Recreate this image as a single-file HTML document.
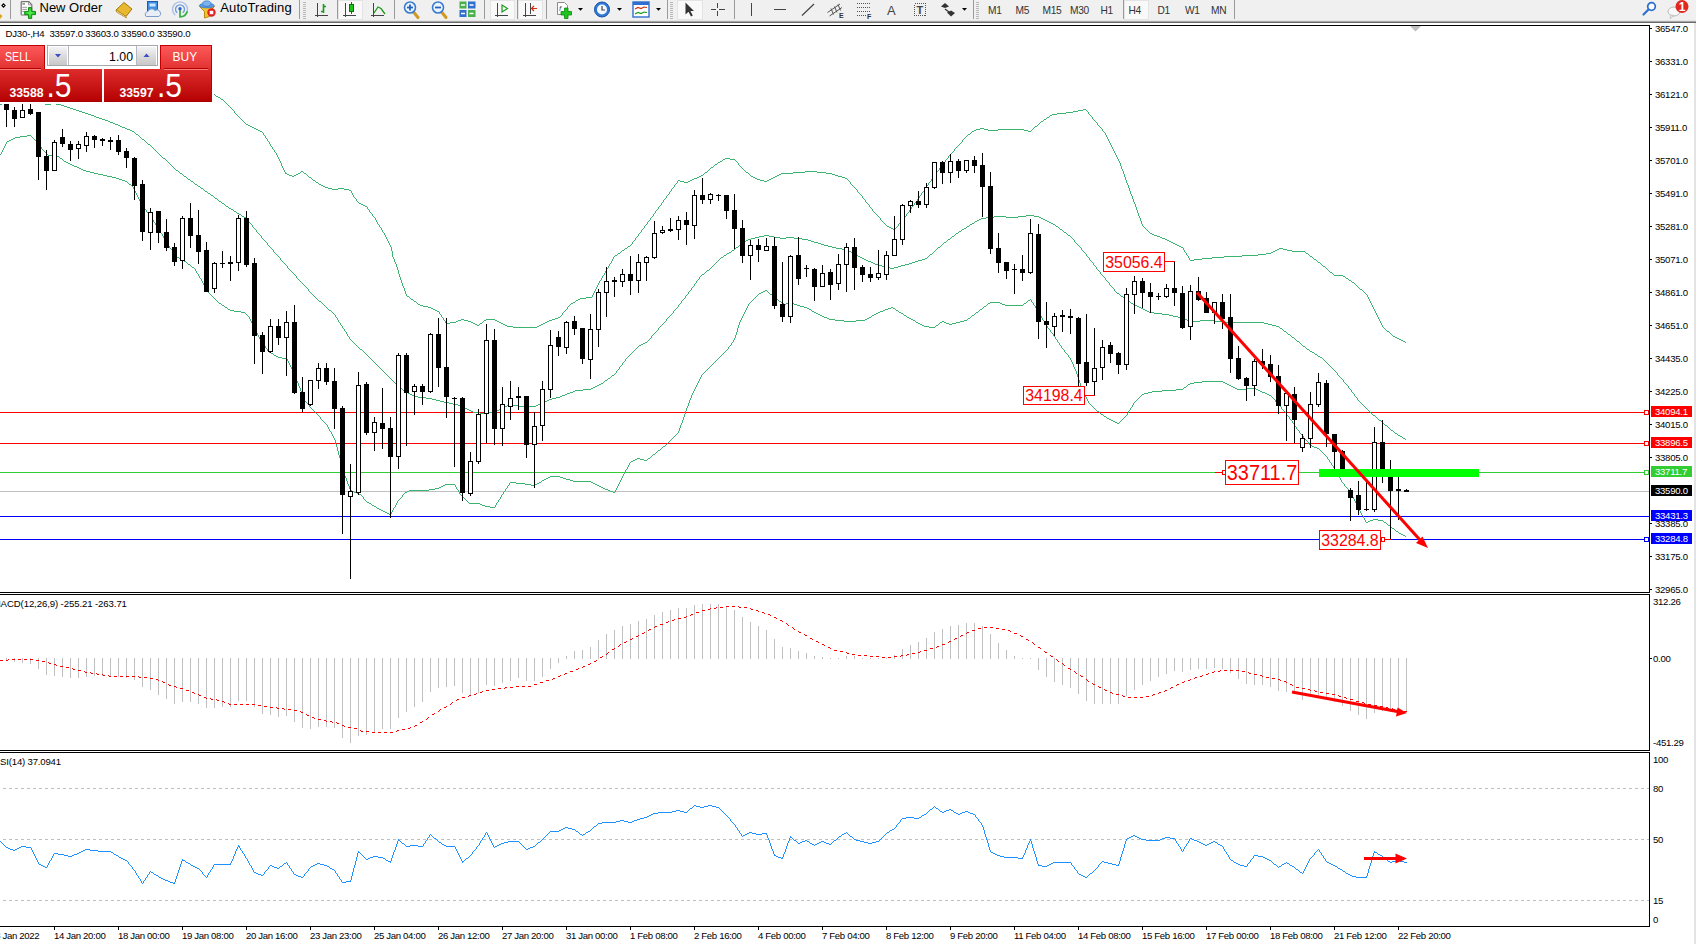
<!DOCTYPE html>
<html lang="en"><head><meta charset="utf-8"><title>DJ30-,H4</title>
<style>html,body{margin:0;padding:0;background:#fff;}body{width:1696px;height:944px;overflow:hidden;position:relative;font-family:"Liberation Sans", sans-serif;}svg{position:absolute;left:0;top:0;display:block}text{font-family:"Liberation Sans", sans-serif;}.ax{font-size:9.6px;letter-spacing:-0.28px;fill:#000}.axw{font-size:9.6px;letter-spacing:-0.28px;fill:#fff}.tb{font-size:13px;fill:#000}.tf{font-size:10.2px;letter-spacing:-0.35px;fill:#333}.lbl{fill:#f00}</style></head><body>
<svg width="1696" height="944" viewBox="0 0 1696 944">
<rect x="0" y="0" width="1696" height="944" fill="#fff"/>
<g shape-rendering="crispEdges">
<rect x="0" y="0" width="1696" height="21" fill="#f0f0f0"/>
<rect x="0" y="20" width="1696" height="1" fill="#e6e6e6"/>
<rect x="0" y="21" width="1696" height="1" fill="#a6a6a6"/>
<rect x="0" y="22" width="1696" height="1" fill="#6a6a6a"/>
<rect x="0" y="25" width="1649" height="1" fill="#000"/>
<rect x="1694" y="23" width="2" height="921" fill="#e3e3e3"/>
<rect x="1649" y="25" width="1" height="902" fill="#000"/>
<rect x="0" y="592" width="1650" height="1" fill="#000"/>
<rect x="0" y="594" width="1650" height="1" fill="#000"/>
<rect x="0" y="750" width="1650" height="1" fill="#000"/>
<rect x="0" y="752" width="1650" height="1" fill="#000"/>
<rect x="0" y="593" width="1650" height="1" fill="#fff"/>
<rect x="0" y="751" width="1650" height="1" fill="#fff"/>
<rect x="0" y="926" width="1650" height="1" fill="#000"/>
<rect x="54" y="927" width="1" height="3" fill="#000"/>
<rect x="118" y="927" width="1" height="3" fill="#000"/>
<rect x="182" y="927" width="1" height="3" fill="#000"/>
<rect x="246" y="927" width="1" height="3" fill="#000"/>
<rect x="310" y="927" width="1" height="3" fill="#000"/>
<rect x="374" y="927" width="1" height="3" fill="#000"/>
<rect x="438" y="927" width="1" height="3" fill="#000"/>
<rect x="502" y="927" width="1" height="3" fill="#000"/>
<rect x="566" y="927" width="1" height="3" fill="#000"/>
<rect x="630" y="927" width="1" height="3" fill="#000"/>
<rect x="694" y="927" width="1" height="3" fill="#000"/>
<rect x="758" y="927" width="1" height="3" fill="#000"/>
<rect x="822" y="927" width="1" height="3" fill="#000"/>
<rect x="886" y="927" width="1" height="3" fill="#000"/>
<rect x="950" y="927" width="1" height="3" fill="#000"/>
<rect x="1014" y="927" width="1" height="3" fill="#000"/>
<rect x="1078" y="927" width="1" height="3" fill="#000"/>
<rect x="1142" y="927" width="1" height="3" fill="#000"/>
<rect x="1206" y="927" width="1" height="3" fill="#000"/>
<rect x="1270" y="927" width="1" height="3" fill="#000"/>
<rect x="1334" y="927" width="1" height="3" fill="#000"/>
<rect x="1398" y="927" width="1" height="3" fill="#000"/>
</g>
<g shape-rendering="crispEdges">
<rect x="0" y="412" width="1649" height="1" fill="#ff0000"/>
<rect x="0" y="443" width="1649" height="1" fill="#ff0000"/>
<rect x="0" y="472" width="1649" height="1" fill="#32cd32"/>
<rect x="0" y="491" width="1649" height="1" fill="#c0c0c0"/>
<rect x="0" y="516" width="1649" height="1" fill="#0000ff"/>
<rect x="0" y="539" width="1649" height="1" fill="#0000ff"/>
</g>
<g shape-rendering="crispEdges">
<path fill="#3cb371" d="M200 85h1v1h-1zM201 86h2v1h-2zM203 87h1v1h-1zM204 88h2v1h-2zM206 89h1v1h-1zM207 90h2v1h-2zM209 91h1v1h-1zM210 92h2v1h-2zM212 93h1v1h-1zM213 94h2v1h-2zM215 95h1v1h-1zM216 96h2v1h-2zM218 97h2v1h-2zM220 98h1v1h-1zM221 99h2v1h-2zM223 100h1v1h-1zM224 101h1v1h-1zM225 102h1v1h-1zM226 103h1v1h-1zM227 104h1v1h-1zM228 105h1v1h-1zM229 106h1v1h-1zM230 107h1v1h-1zM231 108h1v1h-1zM232 109h1v1h-1zM1083 109h3v1h-3zM233 110h1v1h-1zM1078 110h5v1h-5zM1086 110h1v1h-1zM234 111h1v2h-1zM1073 111h5v1h-5zM1087 111h1v1h-1zM1066 112h7v1h-7zM1088 112h1v2h-1zM235 113h1v1h-1zM1057 113h9v1h-9zM236 114h1v1h-1zM1052 114h5v1h-5zM1089 114h1v1h-1zM237 115h1v1h-1zM1050 115h2v1h-2zM1090 115h1v1h-1zM238 116h1v1h-1zM1049 116h1v1h-1zM1091 116h1v1h-1zM239 117h1v1h-1zM1047 117h2v1h-2zM1092 117h1v2h-1zM240 118h1v1h-1zM1046 118h1v1h-1zM241 119h1v1h-1zM1044 119h2v1h-2zM1093 119h1v1h-1zM242 120h1v1h-1zM1043 120h1v1h-1zM1094 120h1v1h-1zM243 121h1v1h-1zM1041 121h2v1h-2zM1095 121h1v1h-1zM244 122h1v1h-1zM1040 122h1v1h-1zM1096 122h1v1h-1zM245 123h1v1h-1zM1039 123h1v1h-1zM1097 123h1v2h-1zM246 124h2v1h-2zM1038 124h1v1h-1zM248 125h2v1h-2zM1037 125h1v1h-1zM1098 125h1v1h-1zM250 126h2v1h-2zM1035 126h2v1h-2zM1099 126h1v1h-1zM252 127h2v1h-2zM1034 127h1v1h-1zM1100 127h1v1h-1zM254 128h2v1h-2zM980 128h4v1h-4zM1033 128h1v1h-1zM1101 128h1v1h-1zM256 129h2v1h-2zM976 129h4v1h-4zM984 129h4v1h-4zM998 129h26v1h-26zM1032 129h1v1h-1zM1102 129h1v2h-1zM258 130h2v1h-2zM974 130h2v1h-2zM988 130h10v1h-10zM1024 130h4v1h-4zM1031 130h1v1h-1zM260 131h2v1h-2zM972 131h2v1h-2zM1028 131h3v1h-3zM1103 131h1v1h-1zM262 132h1v1h-1zM971 132h1v1h-1zM1104 132h1v1h-1zM263 133h1v2h-1zM970 133h1v1h-1zM1105 133h1v2h-1zM968 134h2v1h-2zM264 135h1v1h-1zM967 135h1v1h-1zM1106 135h1v2h-1zM265 136h1v2h-1zM966 136h1v1h-1zM965 137h1v1h-1zM1107 137h1v2h-1zM266 138h1v1h-1zM964 138h1v1h-1zM267 139h1v2h-1zM963 139h1v1h-1zM1108 139h1v2h-1zM962 140h1v2h-1zM268 141h1v1h-1zM1109 141h1v2h-1zM269 142h1v2h-1zM961 142h1v1h-1zM960 143h1v1h-1zM1110 143h1v2h-1zM270 144h1v2h-1zM959 144h1v1h-1zM958 145h1v1h-1zM1111 145h1v2h-1zM271 146h1v1h-1zM957 146h1v1h-1zM272 147h1v2h-1zM956 147h1v1h-1zM1112 147h1v2h-1zM955 148h1v1h-1zM273 149h1v1h-1zM954 149h1v2h-1zM1113 149h1v2h-1zM274 150h1v2h-1zM953 151h1v1h-1zM1114 151h1v2h-1zM275 152h1v1h-1zM952 152h1v1h-1zM276 153h1v2h-1zM951 153h1v1h-1zM1115 153h1v2h-1zM950 154h1v1h-1zM277 155h1v2h-1zM949 155h1v1h-1zM1116 155h1v2h-1zM948 156h1v2h-1zM278 157h1v2h-1zM1117 157h1v2h-1zM725 158h5v1h-5zM947 158h1v1h-1zM279 159h1v2h-1zM723 159h2v1h-2zM730 159h5v1h-5zM946 159h1v1h-1zM1118 159h1v2h-1zM722 160h1v1h-1zM735 160h1v1h-1zM945 160h1v2h-1zM280 161h1v2h-1zM720 161h2v1h-2zM736 161h1v1h-1zM1119 161h1v2h-1zM718 162h2v1h-2zM737 162h1v1h-1zM944 162h1v1h-1zM281 163h1v3h-1zM717 163h1v1h-1zM738 163h1v2h-1zM943 163h1v1h-1zM1120 163h1v3h-1zM715 164h2v1h-2zM942 164h1v2h-1zM714 165h1v1h-1zM739 165h1v1h-1zM282 166h1v2h-1zM713 166h1v1h-1zM740 166h1v1h-1zM941 166h1v1h-1zM1121 166h1v3h-1zM711 167h2v1h-2zM741 167h1v1h-1zM940 167h1v1h-1zM283 168h1v2h-1zM710 168h1v1h-1zM742 168h1v1h-1zM939 168h1v2h-1zM709 169h1v1h-1zM743 169h1v1h-1zM1122 169h1v2h-1zM284 170h1v2h-1zM708 170h1v1h-1zM744 170h1v1h-1zM938 170h1v1h-1zM301 171h2v1h-2zM707 171h1v1h-1zM745 171h1v1h-1zM805 171h12v1h-12zM937 171h1v1h-1zM1123 171h1v3h-1zM285 172h1v1h-1zM300 172h1v1h-1zM303 172h1v1h-1zM705 172h2v1h-2zM746 172h2v1h-2zM793 172h12v1h-12zM817 172h9v1h-9zM936 172h1v2h-1zM285 173h2v1h-2zM298 173h2v1h-2zM304 173h2v1h-2zM704 173h1v1h-1zM748 173h1v1h-1zM781 173h12v1h-12zM826 173h6v1h-6zM287 174h2v1h-2zM296 174h2v1h-2zM306 174h1v1h-1zM703 174h1v1h-1zM749 174h1v1h-1zM779 174h2v1h-2zM832 174h3v1h-3zM935 174h1v1h-1zM1124 174h1v3h-1zM289 175h3v1h-3zM294 175h2v1h-2zM307 175h1v1h-1zM701 175h2v1h-2zM750 175h1v1h-1zM777 175h2v1h-2zM835 175h3v1h-3zM934 175h1v1h-1zM292 176h2v1h-2zM308 176h1v1h-1zM699 176h2v1h-2zM751 176h2v1h-2zM775 176h2v1h-2zM838 176h4v1h-4zM933 176h1v2h-1zM309 177h2v1h-2zM697 177h2v1h-2zM753 177h2v1h-2zM773 177h2v1h-2zM842 177h3v1h-3zM1125 177h1v3h-1zM311 178h1v1h-1zM694 178h3v1h-3zM755 178h2v1h-2zM771 178h2v1h-2zM845 178h2v1h-2zM932 178h1v1h-1zM312 179h1v1h-1zM692 179h2v1h-2zM757 179h3v1h-3zM769 179h2v1h-2zM847 179h1v1h-1zM931 179h1v2h-1zM313 180h2v1h-2zM678 180h2v1h-2zM690 180h2v1h-2zM760 180h4v1h-4zM767 180h2v1h-2zM848 180h1v1h-1zM1126 180h1v3h-1zM315 181h1v1h-1zM677 181h1v2h-1zM680 181h4v1h-4zM688 181h2v1h-2zM764 181h3v1h-3zM849 181h1v1h-1zM930 181h1v1h-1zM316 182h2v1h-2zM684 182h4v1h-4zM850 182h1v2h-1zM929 182h1v1h-1zM318 183h1v1h-1zM676 183h1v1h-1zM928 183h1v2h-1zM1127 183h1v2h-1zM319 184h2v1h-2zM675 184h1v1h-1zM851 184h1v1h-1zM321 185h2v1h-2zM674 185h1v2h-1zM852 185h1v1h-1zM927 185h1v1h-1zM1128 185h1v3h-1zM323 186h2v1h-2zM853 186h1v1h-1zM926 186h1v2h-1zM325 187h3v1h-3zM673 187h1v1h-1zM854 187h1v1h-1zM328 188h4v1h-4zM338 188h6v1h-6zM672 188h1v1h-1zM855 188h1v1h-1zM925 188h1v1h-1zM1129 188h1v3h-1zM332 189h6v1h-6zM344 189h5v1h-5zM671 189h1v2h-1zM856 189h1v1h-1zM924 189h1v2h-1zM349 190h2v1h-2zM857 190h1v2h-1zM351 191h1v2h-1zM670 191h1v1h-1zM923 191h1v1h-1zM1130 191h1v3h-1zM669 192h1v2h-1zM858 192h1v1h-1zM922 192h1v1h-1zM352 193h1v2h-1zM859 193h1v1h-1zM921 193h1v2h-1zM668 194h1v1h-1zM860 194h1v1h-1zM1131 194h1v2h-1zM353 195h1v2h-1zM667 195h1v1h-1zM861 195h1v1h-1zM920 195h1v1h-1zM666 196h1v2h-1zM862 196h1v2h-1zM919 196h1v2h-1zM1132 196h1v3h-1zM354 197h1v1h-1zM355 198h1v1h-1zM665 198h1v1h-1zM863 198h1v1h-1zM918 198h1v1h-1zM356 199h1v2h-1zM664 199h1v1h-1zM864 199h1v1h-1zM917 199h1v2h-1zM1133 199h1v3h-1zM663 200h1v2h-1zM865 200h1v2h-1zM357 201h1v1h-1zM916 201h1v1h-1zM358 202h1v1h-1zM662 202h1v1h-1zM866 202h1v1h-1zM915 202h1v1h-1zM1134 202h1v2h-1zM359 203h2v1h-2zM661 203h1v2h-1zM867 203h1v1h-1zM914 203h1v2h-1zM361 204h2v1h-2zM868 204h1v1h-1zM1135 204h1v3h-1zM363 205h2v1h-2zM660 205h1v1h-1zM869 205h1v2h-1zM913 205h1v1h-1zM365 206h2v1h-2zM659 206h1v1h-1zM912 206h1v1h-1zM367 207h1v2h-1zM658 207h1v2h-1zM870 207h1v1h-1zM911 207h1v2h-1zM1136 207h1v3h-1zM871 208h1v1h-1zM368 209h1v1h-1zM657 209h1v1h-1zM872 209h1v2h-1zM910 209h1v1h-1zM369 210h1v2h-1zM656 210h1v1h-1zM909 210h1v2h-1zM1137 210h1v3h-1zM655 211h1v2h-1zM873 211h1v1h-1zM370 212h1v1h-1zM874 212h1v1h-1zM908 212h1v1h-1zM371 213h1v1h-1zM654 213h1v1h-1zM875 213h1v1h-1zM907 213h1v1h-1zM1138 213h1v3h-1zM372 214h1v2h-1zM653 214h1v2h-1zM876 214h1v1h-1zM906 214h1v2h-1zM877 215h1v1h-1zM373 216h1v1h-1zM652 216h1v1h-1zM878 216h1v1h-1zM905 216h1v1h-1zM1139 216h1v2h-1zM374 217h1v1h-1zM651 217h1v1h-1zM879 217h1v1h-1zM904 217h1v1h-1zM375 218h1v2h-1zM650 218h1v2h-1zM880 218h1v2h-1zM903 218h1v2h-1zM1140 218h1v3h-1zM376 220h1v2h-1zM649 220h1v1h-1zM881 220h1v1h-1zM902 220h1v1h-1zM648 221h1v1h-1zM882 221h1v1h-1zM901 221h1v1h-1zM1141 221h1v3h-1zM377 222h1v2h-1zM647 222h1v2h-1zM883 222h1v1h-1zM900 222h1v1h-1zM884 223h1v1h-1zM899 223h1v1h-1zM378 224h1v1h-1zM646 224h1v1h-1zM885 224h1v1h-1zM898 224h1v2h-1zM1142 224h1v2h-1zM379 225h1v2h-1zM645 225h1v1h-1zM886 225h1v1h-1zM644 226h1v2h-1zM887 226h2v1h-2zM897 226h1v1h-1zM1143 226h1v1h-1zM380 227h1v1h-1zM889 227h2v1h-2zM896 227h1v1h-1zM1144 227h1v1h-1zM381 228h1v2h-1zM643 228h1v1h-1zM891 228h2v1h-2zM895 228h1v1h-1zM1145 228h1v1h-1zM642 229h1v1h-1zM893 229h2v1h-2zM1146 229h1v1h-1zM382 230h1v2h-1zM641 230h1v2h-1zM1147 230h1v1h-1zM1148 231h1v1h-1zM383 232h1v1h-1zM640 232h1v1h-1zM1149 232h1v1h-1zM384 233h1v2h-1zM639 233h1v1h-1zM1150 233h2v1h-2zM638 234h1v2h-1zM1152 234h2v1h-2zM385 235h1v2h-1zM1154 235h3v1h-3zM637 236h1v1h-1zM1157 236h3v1h-3zM386 237h1v2h-1zM636 237h1v1h-1zM1160 237h2v1h-2zM635 238h1v2h-1zM1162 238h3v1h-3zM387 239h1v2h-1zM1165 239h2v1h-2zM634 240h1v1h-1zM1167 240h2v1h-2zM388 241h1v2h-1zM633 241h1v1h-1zM1169 241h2v1h-2zM632 242h1v2h-1zM1171 242h2v1h-2zM389 243h1v2h-1zM1173 243h2v1h-2zM631 244h1v1h-1zM1175 244h2v1h-2zM390 245h1v2h-1zM630 245h1v1h-1zM1177 245h2v1h-2zM628 246h2v1h-2zM1179 246h2v1h-2zM391 247h1v4h-1zM627 247h1v1h-1zM1181 247h2v1h-2zM625 248h2v1h-2zM1183 248h1v2h-1zM1279 248h4v1h-4zM624 249h1v1h-1zM1277 249h2v1h-2zM1283 249h4v1h-4zM622 250h2v1h-2zM1184 250h1v2h-1zM1275 250h2v1h-2zM1287 250h5v1h-5zM392 251h1v6h-1zM621 251h1v1h-1zM1273 251h2v1h-2zM1292 251h13v1h-13zM620 252h1v1h-1zM1185 252h1v1h-1zM1271 252h2v1h-2zM1305 252h1v1h-1zM618 253h2v1h-2zM1186 253h1v2h-1zM1266 253h5v1h-5zM1306 253h2v1h-2zM617 254h1v1h-1zM1258 254h8v1h-8zM1308 254h1v1h-1zM615 255h2v1h-2zM1187 255h1v1h-1zM1242 255h16v1h-16zM1309 255h1v1h-1zM614 256h1v1h-1zM1188 256h1v2h-1zM1224 256h18v1h-18zM1310 256h2v1h-2zM393 257h1v2h-1zM613 257h1v2h-1zM1212 257h12v1h-12zM1312 257h1v1h-1zM1189 258h1v2h-1zM1202 258h10v1h-10zM1313 258h1v1h-1zM394 259h1v3h-1zM612 259h1v2h-1zM1194 259h8v1h-8zM1314 259h2v1h-2zM1190 260h4v1h-4zM1316 260h1v1h-1zM611 261h1v2h-1zM1317 261h1v1h-1zM395 262h1v2h-1zM1318 262h2v1h-2zM610 263h1v1h-1zM1320 263h1v1h-1zM396 264h1v3h-1zM609 264h1v2h-1zM1321 264h1v1h-1zM1322 265h1v1h-1zM608 266h1v2h-1zM1323 266h2v1h-2zM397 267h1v3h-1zM1325 267h1v1h-1zM607 268h1v1h-1zM1326 268h1v1h-1zM606 269h1v2h-1zM1327 269h1v1h-1zM398 270h1v4h-1zM1328 270h1v1h-1zM605 271h1v2h-1zM1329 271h1v1h-1zM1330 272h2v1h-2zM604 273h1v2h-1zM1332 273h1v1h-1zM399 274h1v3h-1zM1333 274h1v1h-1zM603 275h1v1h-1zM1334 275h9v1h-9zM602 276h1v2h-1zM1343 276h2v1h-2zM400 277h1v3h-1zM1345 277h1v1h-1zM601 278h1v2h-1zM1346 278h2v1h-2zM1348 279h1v1h-1zM401 280h1v3h-1zM600 280h1v1h-1zM1349 280h2v1h-2zM599 281h1v2h-1zM1351 281h1v1h-1zM1352 282h2v1h-2zM402 283h1v3h-1zM598 283h1v2h-1zM1354 283h1v1h-1zM1355 284h1v1h-1zM597 285h1v2h-1zM1356 285h1v1h-1zM403 286h1v2h-1zM1357 286h1v1h-1zM596 287h1v2h-1zM1358 287h1v1h-1zM404 288h1v3h-1zM1359 288h1v1h-1zM595 289h1v2h-1zM1360 289h2v1h-2zM1362 290h1v1h-1zM405 291h1v3h-1zM594 291h1v2h-1zM1363 291h1v1h-1zM1364 292h1v1h-1zM593 293h1v2h-1zM1365 293h1v1h-1zM406 294h1v2h-1zM1366 294h1v1h-1zM592 295h1v2h-1zM1367 295h1v2h-1zM407 296h2v1h-2zM409 297h1v1h-1zM586 297h6v1h-6zM1368 297h1v2h-1zM410 298h1v1h-1zM580 298h6v1h-6zM411 299h2v1h-2zM578 299h2v1h-2zM1369 299h1v2h-1zM413 300h1v1h-1zM576 300h2v1h-2zM414 301h2v1h-2zM575 301h1v1h-1zM1370 301h1v2h-1zM416 302h1v1h-1zM573 302h2v1h-2zM417 303h1v1h-1zM571 303h2v1h-2zM1371 303h1v2h-1zM418 304h2v1h-2zM570 304h1v1h-1zM420 305h3v1h-3zM569 305h1v1h-1zM1372 305h1v2h-1zM423 306h5v1h-5zM568 306h1v1h-1zM428 307h3v1h-3zM567 307h1v2h-1zM1373 307h1v2h-1zM431 308h2v1h-2zM433 309h2v1h-2zM566 309h1v1h-1zM1374 309h1v2h-1zM435 310h2v1h-2zM565 310h1v1h-1zM437 311h2v1h-2zM564 311h1v1h-1zM1375 311h1v2h-1zM439 312h1v2h-1zM563 312h1v1h-1zM562 313h1v2h-1zM1376 313h1v2h-1zM440 314h1v1h-1zM441 315h1v2h-1zM561 315h1v1h-1zM1377 315h1v2h-1zM560 316h1v1h-1zM442 317h1v1h-1zM558 317h2v1h-2zM1378 317h1v2h-1zM443 318h1v2h-1zM555 318h3v1h-3zM461 319h3v1h-3zM486 319h9v1h-9zM552 319h3v1h-3zM1379 319h1v2h-1zM444 320h1v1h-1zM458 320h3v1h-3zM464 320h4v1h-4zM484 320h2v1h-2zM495 320h2v1h-2zM549 320h3v1h-3zM445 321h1v2h-1zM456 321h2v1h-2zM468 321h3v1h-3zM483 321h1v1h-1zM497 321h2v1h-2zM547 321h2v1h-2zM1380 321h1v2h-1zM450 322h6v1h-6zM471 322h2v1h-2zM482 322h1v1h-1zM499 322h2v1h-2zM545 322h2v1h-2zM446 323h4v1h-4zM473 323h2v1h-2zM480 323h2v1h-2zM501 323h2v1h-2zM543 323h2v1h-2zM1381 323h1v2h-1zM475 324h2v1h-2zM479 324h1v1h-1zM503 324h2v1h-2zM541 324h2v1h-2zM477 325h2v1h-2zM505 325h2v1h-2zM539 325h2v1h-2zM1382 325h1v2h-1zM507 326h6v1h-6zM537 326h2v1h-2zM513 327h24v1h-24zM1383 327h1v1h-1zM1384 328h1v1h-1zM1385 329h1v1h-1zM1386 330h1v1h-1zM1387 331h2v1h-2zM1389 332h1v1h-1zM1390 333h1v1h-1zM1391 334h1v1h-1zM1392 335h1v1h-1zM1393 336h2v1h-2zM1395 337h2v1h-2zM1397 338h2v1h-2zM1399 339h2v1h-2zM1401 340h2v1h-2zM1403 341h2v1h-2zM1405 342h1v1h-1z"/>
<path fill="#3cb371" d="M2 103h43v1h-43zM51 103h5v1h-5zM0 104h2v1h-2zM45 104h6v1h-6zM56 104h5v1h-5zM61 105h3v1h-3zM64 106h3v1h-3zM67 107h3v1h-3zM70 108h3v1h-3zM73 109h3v1h-3zM76 110h3v1h-3zM79 111h3v1h-3zM82 112h3v1h-3zM85 113h3v1h-3zM88 114h3v1h-3zM91 115h3v1h-3zM94 116h2v1h-2zM96 117h3v1h-3zM99 118h3v1h-3zM102 119h3v1h-3zM105 120h3v1h-3zM108 121h2v1h-2zM110 122h3v1h-3zM113 123h2v1h-2zM115 124h3v1h-3zM118 125h2v1h-2zM120 126h2v1h-2zM122 127h3v1h-3zM125 128h2v1h-2zM127 129h3v1h-3zM130 130h2v1h-2zM132 131h2v1h-2zM134 132h1v1h-1zM135 133h1v1h-1zM136 134h2v1h-2zM138 135h1v1h-1zM139 136h1v1h-1zM140 137h1v1h-1zM141 138h1v1h-1zM142 139h2v1h-2zM144 140h1v1h-1zM145 141h1v1h-1zM146 142h1v1h-1zM147 143h1v1h-1zM148 144h2v1h-2zM150 145h1v1h-1zM151 146h1v1h-1zM152 147h1v1h-1zM153 148h1v1h-1zM154 149h1v1h-1zM155 150h1v1h-1zM156 151h1v1h-1zM157 152h1v1h-1zM158 153h1v1h-1zM159 154h1v1h-1zM160 155h1v1h-1zM161 156h1v1h-1zM162 157h1v1h-1zM163 158h2v1h-2zM165 159h1v1h-1zM166 160h1v1h-1zM167 161h1v1h-1zM168 162h1v1h-1zM169 163h1v1h-1zM170 164h1v1h-1zM171 165h1v1h-1zM172 166h1v1h-1zM173 167h1v1h-1zM174 168h1v1h-1zM175 169h1v1h-1zM176 170h2v1h-2zM178 171h1v1h-1zM179 172h1v1h-1zM180 173h2v1h-2zM182 174h1v1h-1zM183 175h1v1h-1zM184 176h2v1h-2zM186 177h1v1h-1zM187 178h1v1h-1zM188 179h2v1h-2zM190 180h1v1h-1zM191 181h2v1h-2zM193 182h1v1h-1zM194 183h1v1h-1zM195 184h2v1h-2zM197 185h1v1h-1zM198 186h2v1h-2zM200 187h1v1h-1zM201 188h2v1h-2zM203 189h1v1h-1zM204 190h1v1h-1zM205 191h2v1h-2zM207 192h1v1h-1zM208 193h2v1h-2zM210 194h1v1h-1zM211 195h2v1h-2zM213 196h1v1h-1zM214 197h1v1h-1zM215 198h2v1h-2zM217 199h1v1h-1zM218 200h1v1h-1zM219 201h2v1h-2zM221 202h1v1h-1zM222 203h2v1h-2zM224 204h1v1h-1zM225 205h1v1h-1zM226 206h2v1h-2zM228 207h1v1h-1zM229 208h2v1h-2zM231 209h2v1h-2zM233 210h1v1h-1zM234 211h2v1h-2zM236 212h1v1h-1zM237 213h2v1h-2zM239 214h2v1h-2zM241 215h1v1h-1zM1026 215h8v1h-8zM242 216h2v1h-2zM994 216h12v1h-12zM1018 216h8v1h-8zM1034 216h5v1h-5zM244 217h2v1h-2zM986 217h8v1h-8zM1006 217h12v1h-12zM1039 217h2v1h-2zM246 218h1v1h-1zM981 218h5v1h-5zM1041 218h2v1h-2zM247 219h1v1h-1zM979 219h2v1h-2zM1043 219h2v1h-2zM248 220h1v2h-1zM977 220h2v1h-2zM1045 220h2v1h-2zM975 221h2v1h-2zM1047 221h2v1h-2zM249 222h1v1h-1zM974 222h1v1h-1zM1049 222h2v1h-2zM250 223h1v1h-1zM972 223h2v1h-2zM1051 223h2v1h-2zM251 224h1v1h-1zM970 224h2v1h-2zM1053 224h2v1h-2zM252 225h1v2h-1zM969 225h1v1h-1zM1055 225h1v1h-1zM967 226h2v1h-2zM1056 226h2v1h-2zM253 227h1v1h-1zM966 227h1v1h-1zM1058 227h1v1h-1zM254 228h1v1h-1zM964 228h2v1h-2zM1059 228h1v1h-1zM255 229h1v1h-1zM962 229h2v1h-2zM1060 229h2v1h-2zM256 230h1v2h-1zM961 230h1v1h-1zM1062 230h1v1h-1zM959 231h2v1h-2zM1063 231h1v1h-1zM257 232h1v1h-1zM958 232h1v1h-1zM1064 232h2v1h-2zM258 233h1v1h-1zM956 233h2v1h-2zM1066 233h1v1h-1zM259 234h1v1h-1zM955 234h1v1h-1zM1067 234h1v1h-1zM260 235h1v1h-1zM764 235h5v1h-5zM954 235h1v1h-1zM1068 235h2v1h-2zM261 236h1v2h-1zM759 236h5v1h-5zM769 236h5v1h-5zM952 236h2v1h-2zM1070 236h1v1h-1zM755 237h4v1h-4zM774 237h6v1h-6zM786 237h8v1h-8zM951 237h1v1h-1zM1071 237h1v1h-1zM262 238h1v1h-1zM751 238h4v1h-4zM780 238h6v1h-6zM794 238h8v1h-8zM950 238h1v1h-1zM1072 238h1v1h-1zM263 239h1v1h-1zM748 239h3v1h-3zM802 239h6v1h-6zM948 239h2v1h-2zM1073 239h1v1h-1zM264 240h1v1h-1zM746 240h2v1h-2zM808 240h3v1h-3zM947 240h1v1h-1zM1074 240h1v2h-1zM265 241h1v1h-1zM744 241h2v1h-2zM811 241h3v1h-3zM946 241h1v1h-1zM266 242h1v1h-1zM743 242h1v1h-1zM814 242h4v1h-4zM944 242h2v1h-2zM1075 242h1v1h-1zM267 243h1v2h-1zM742 243h1v1h-1zM818 243h3v1h-3zM943 243h1v1h-1zM1076 243h1v1h-1zM740 244h2v1h-2zM821 244h3v1h-3zM942 244h1v1h-1zM1077 244h1v1h-1zM268 245h1v1h-1zM739 245h1v1h-1zM824 245h4v1h-4zM941 245h1v1h-1zM1078 245h1v1h-1zM269 246h1v1h-1zM738 246h1v1h-1zM828 246h4v1h-4zM940 246h1v1h-1zM1079 246h1v1h-1zM270 247h1v1h-1zM736 247h2v1h-2zM832 247h4v1h-4zM938 247h2v1h-2zM1080 247h1v1h-1zM271 248h1v1h-1zM735 248h1v1h-1zM836 248h6v1h-6zM937 248h1v1h-1zM1081 248h1v2h-1zM272 249h1v1h-1zM734 249h1v1h-1zM842 249h5v1h-5zM936 249h1v1h-1zM273 250h1v2h-1zM732 250h2v1h-2zM847 250h2v1h-2zM935 250h1v1h-1zM1082 250h1v1h-1zM731 251h1v1h-1zM849 251h2v1h-2zM934 251h1v1h-1zM1083 251h1v1h-1zM274 252h1v1h-1zM729 252h2v1h-2zM851 252h2v1h-2zM933 252h1v1h-1zM1084 252h1v1h-1zM275 253h1v1h-1zM727 253h2v1h-2zM853 253h1v1h-1zM932 253h1v1h-1zM1085 253h1v1h-1zM276 254h1v1h-1zM726 254h1v1h-1zM854 254h2v1h-2zM930 254h2v1h-2zM1086 254h1v2h-1zM277 255h1v1h-1zM724 255h2v1h-2zM856 255h2v1h-2zM929 255h1v1h-1zM278 256h1v1h-1zM723 256h1v1h-1zM858 256h2v1h-2zM928 256h1v1h-1zM1087 256h1v1h-1zM279 257h1v1h-1zM721 257h2v1h-2zM860 257h2v1h-2zM927 257h1v1h-1zM1088 257h1v1h-1zM280 258h1v2h-1zM720 258h1v1h-1zM862 258h2v1h-2zM925 258h2v1h-2zM1089 258h1v2h-1zM719 259h1v1h-1zM864 259h2v1h-2zM922 259h3v1h-3zM281 260h1v1h-1zM718 260h1v1h-1zM866 260h2v1h-2zM918 260h4v1h-4zM1090 260h1v1h-1zM282 261h1v1h-1zM717 261h1v1h-1zM868 261h3v1h-3zM915 261h3v1h-3zM1091 261h1v1h-1zM283 262h1v1h-1zM716 262h1v1h-1zM871 262h2v1h-2zM912 262h3v1h-3zM1092 262h1v1h-1zM284 263h1v1h-1zM715 263h1v1h-1zM873 263h2v1h-2zM909 263h3v1h-3zM1093 263h1v2h-1zM285 264h1v1h-1zM714 264h1v1h-1zM875 264h3v1h-3zM905 264h4v1h-4zM286 265h1v1h-1zM713 265h1v1h-1zM878 265h4v1h-4zM901 265h4v1h-4zM1094 265h1v1h-1zM287 266h1v2h-1zM712 266h1v1h-1zM882 266h4v1h-4zM898 266h3v1h-3zM1095 266h1v1h-1zM711 267h1v1h-1zM886 267h4v1h-4zM894 267h4v1h-4zM1096 267h1v2h-1zM288 268h1v1h-1zM710 268h1v1h-1zM890 268h4v1h-4zM289 269h1v1h-1zM709 269h1v1h-1zM1097 269h1v1h-1zM290 270h1v1h-1zM707 270h2v1h-2zM1098 270h1v1h-1zM291 271h1v1h-1zM706 271h1v1h-1zM1099 271h1v1h-1zM292 272h1v1h-1zM705 272h1v1h-1zM1100 272h1v2h-1zM293 273h1v1h-1zM704 273h1v1h-1zM294 274h1v1h-1zM702 274h2v1h-2zM1101 274h1v1h-1zM295 275h1v1h-1zM701 275h1v1h-1zM1102 275h1v1h-1zM296 276h1v2h-1zM700 276h1v1h-1zM1103 276h1v1h-1zM699 277h1v2h-1zM1104 277h1v1h-1zM297 278h1v1h-1zM1105 278h1v2h-1zM298 279h1v1h-1zM698 279h1v1h-1zM299 280h1v1h-1zM697 280h1v1h-1zM1106 280h1v1h-1zM300 281h1v1h-1zM696 281h1v2h-1zM1107 281h1v1h-1zM301 282h1v1h-1zM1108 282h1v1h-1zM302 283h1v1h-1zM695 283h1v1h-1zM1109 283h1v2h-1zM303 284h1v1h-1zM694 284h1v2h-1zM304 285h1v1h-1zM1110 285h1v1h-1zM305 286h1v1h-1zM693 286h1v1h-1zM1111 286h1v1h-1zM306 287h1v1h-1zM692 287h1v1h-1zM1112 287h1v1h-1zM307 288h1v1h-1zM691 288h1v2h-1zM1113 288h1v1h-1zM308 289h1v2h-1zM1114 289h1v2h-1zM690 290h1v1h-1zM309 291h1v1h-1zM689 291h1v1h-1zM1115 291h1v1h-1zM310 292h1v1h-1zM688 292h1v2h-1zM1116 292h1v1h-1zM311 293h1v1h-1zM1117 293h2v1h-2zM312 294h1v1h-1zM687 294h1v1h-1zM1119 294h1v1h-1zM313 295h1v1h-1zM686 295h1v1h-1zM1120 295h1v1h-1zM314 296h1v1h-1zM685 296h1v2h-1zM1121 296h2v1h-2zM315 297h1v1h-1zM1123 297h1v1h-1zM316 298h1v1h-1zM684 298h1v1h-1zM1124 298h2v1h-2zM317 299h1v1h-1zM683 299h1v1h-1zM1126 299h1v1h-1zM318 300h1v1h-1zM682 300h1v1h-1zM1127 300h1v1h-1zM319 301h2v1h-2zM681 301h1v2h-1zM1128 301h2v1h-2zM321 302h1v1h-1zM1130 302h1v1h-1zM322 303h1v1h-1zM680 303h1v1h-1zM1131 303h2v1h-2zM323 304h1v1h-1zM679 304h1v1h-1zM1133 304h2v1h-2zM324 305h1v1h-1zM678 305h1v2h-1zM1135 305h2v1h-2zM325 306h1v1h-1zM1137 306h2v1h-2zM326 307h1v1h-1zM677 307h1v1h-1zM1139 307h2v1h-2zM327 308h1v1h-1zM676 308h1v1h-1zM1141 308h2v1h-2zM328 309h1v1h-1zM675 309h1v1h-1zM1143 309h2v1h-2zM329 310h2v1h-2zM674 310h1v1h-1zM1145 310h2v1h-2zM331 311h1v1h-1zM673 311h1v2h-1zM1147 311h2v1h-2zM332 312h1v1h-1zM1149 312h5v1h-5zM333 313h1v1h-1zM672 313h1v1h-1zM1154 313h8v1h-8zM334 314h1v1h-1zM671 314h1v1h-1zM1162 314h7v1h-7zM335 315h1v2h-1zM670 315h1v1h-1zM1169 315h4v1h-4zM669 316h1v1h-1zM1173 316h5v1h-5zM336 317h1v1h-1zM668 317h1v1h-1zM1178 317h4v1h-4zM337 318h1v2h-1zM667 318h1v1h-1zM1182 318h2v1h-2zM666 319h1v2h-1zM1184 319h3v1h-3zM338 320h1v2h-1zM1187 320h2v1h-2zM1200 320h15v1h-15zM665 321h1v1h-1zM1189 321h11v1h-11zM1215 321h10v1h-10zM339 322h1v1h-1zM664 322h1v1h-1zM1225 322h39v1h-39zM340 323h1v2h-1zM663 323h1v1h-1zM1264 323h4v1h-4zM662 324h1v1h-1zM1268 324h4v1h-4zM341 325h1v1h-1zM661 325h1v1h-1zM1272 325h4v1h-4zM342 326h1v2h-1zM660 326h1v1h-1zM1276 326h3v1h-3zM659 327h1v1h-1zM1279 327h1v1h-1zM343 328h1v1h-1zM658 328h1v2h-1zM1280 328h2v1h-2zM344 329h1v2h-1zM1282 329h1v1h-1zM657 330h1v1h-1zM1283 330h1v1h-1zM345 331h1v1h-1zM656 331h1v1h-1zM1284 331h2v1h-2zM346 332h1v2h-1zM655 332h1v1h-1zM1286 332h1v1h-1zM654 333h1v1h-1zM1287 333h1v1h-1zM347 334h1v2h-1zM653 334h1v1h-1zM1288 334h2v1h-2zM652 335h1v1h-1zM1290 335h1v1h-1zM348 336h1v1h-1zM651 336h1v2h-1zM1291 336h1v1h-1zM349 337h1v2h-1zM1292 337h2v1h-2zM650 338h1v1h-1zM1294 338h1v1h-1zM350 339h1v1h-1zM649 339h1v1h-1zM1295 339h1v1h-1zM351 340h1v1h-1zM648 340h1v1h-1zM1296 340h1v1h-1zM352 341h1v1h-1zM647 341h1v1h-1zM1297 341h2v1h-2zM353 342h1v1h-1zM645 342h2v1h-2zM1299 342h1v1h-1zM354 343h1v1h-1zM643 343h2v1h-2zM1300 343h1v1h-1zM355 344h1v1h-1zM641 344h2v1h-2zM1301 344h1v1h-1zM356 345h1v1h-1zM639 345h2v1h-2zM1302 345h1v1h-1zM357 346h1v1h-1zM638 346h1v1h-1zM1303 346h2v1h-2zM358 347h1v1h-1zM637 347h1v1h-1zM1305 347h1v1h-1zM359 348h1v1h-1zM636 348h1v1h-1zM1306 348h1v1h-1zM360 349h2v1h-2zM635 349h1v1h-1zM1307 349h2v1h-2zM362 350h1v1h-1zM634 350h1v1h-1zM1309 350h1v1h-1zM363 351h1v1h-1zM633 351h1v1h-1zM1310 351h2v1h-2zM364 352h1v1h-1zM632 352h1v1h-1zM1312 352h2v1h-2zM365 353h1v1h-1zM631 353h1v1h-1zM1314 353h1v1h-1zM366 354h1v1h-1zM630 354h1v1h-1zM1315 354h2v1h-2zM367 355h1v1h-1zM629 355h1v1h-1zM1317 355h1v1h-1zM368 356h1v1h-1zM628 356h1v1h-1zM1318 356h2v1h-2zM369 357h1v1h-1zM627 357h1v1h-1zM1320 357h2v1h-2zM370 358h1v1h-1zM626 358h1v1h-1zM1322 358h1v1h-1zM371 359h1v1h-1zM625 359h1v2h-1zM1323 359h1v1h-1zM372 360h1v1h-1zM1324 360h1v1h-1zM373 361h1v1h-1zM624 361h1v1h-1zM1325 361h1v1h-1zM374 362h1v1h-1zM623 362h1v1h-1zM1326 362h1v1h-1zM375 363h1v1h-1zM622 363h1v2h-1zM1327 363h1v1h-1zM376 364h1v1h-1zM1328 364h1v1h-1zM377 365h1v1h-1zM621 365h1v1h-1zM1329 365h1v1h-1zM378 366h1v1h-1zM620 366h1v1h-1zM1330 366h1v1h-1zM379 367h1v1h-1zM619 367h1v2h-1zM1331 367h1v1h-1zM380 368h1v1h-1zM1332 368h1v1h-1zM381 369h1v1h-1zM618 369h1v1h-1zM1333 369h1v1h-1zM382 370h1v1h-1zM617 370h1v1h-1zM1334 370h1v1h-1zM383 371h1v1h-1zM616 371h1v2h-1zM1335 371h1v1h-1zM384 372h1v1h-1zM1336 372h1v1h-1zM385 373h1v1h-1zM615 373h1v1h-1zM1337 373h1v2h-1zM386 374h1v1h-1zM614 374h1v1h-1zM387 375h1v1h-1zM612 375h2v1h-2zM1338 375h1v1h-1zM388 376h1v1h-1zM611 376h1v1h-1zM1339 376h1v1h-1zM389 377h1v1h-1zM610 377h1v1h-1zM1340 377h1v1h-1zM390 378h1v1h-1zM608 378h2v1h-2zM1341 378h1v1h-1zM391 379h1v1h-1zM607 379h1v1h-1zM1342 379h1v1h-1zM392 380h1v1h-1zM605 380h2v1h-2zM1343 380h1v2h-1zM393 381h1v1h-1zM604 381h1v1h-1zM394 382h1v1h-1zM603 382h1v1h-1zM1344 382h1v1h-1zM395 383h1v1h-1zM601 383h2v1h-2zM1345 383h1v1h-1zM396 384h2v1h-2zM599 384h2v1h-2zM1346 384h1v1h-1zM398 385h1v1h-1zM597 385h2v1h-2zM1347 385h1v1h-1zM399 386h1v1h-1zM595 386h2v1h-2zM1348 386h1v2h-1zM400 387h1v1h-1zM593 387h2v1h-2zM401 388h1v1h-1zM591 388h2v1h-2zM1349 388h1v1h-1zM402 389h1v1h-1zM583 389h8v1h-8zM1350 389h1v1h-1zM403 390h2v1h-2zM575 390h8v1h-8zM1351 390h1v2h-1zM405 391h2v1h-2zM573 391h2v1h-2zM407 392h1v1h-1zM570 392h3v1h-3zM1352 392h1v1h-1zM408 393h2v1h-2zM567 393h3v1h-3zM1353 393h1v1h-1zM410 394h2v1h-2zM565 394h2v1h-2zM1354 394h1v2h-1zM412 395h2v1h-2zM562 395h3v1h-3zM414 396h4v1h-4zM560 396h2v1h-2zM1355 396h1v1h-1zM418 397h8v1h-8zM556 397h4v1h-4zM1356 397h1v1h-1zM426 398h6v1h-6zM552 398h4v1h-4zM1357 398h1v2h-1zM432 399h4v1h-4zM549 399h3v1h-3zM436 400h4v1h-4zM547 400h2v1h-2zM1358 400h1v1h-1zM440 401h4v1h-4zM545 401h2v1h-2zM1359 401h1v1h-1zM444 402h5v1h-5zM543 402h2v1h-2zM1360 402h1v1h-1zM449 403h4v1h-4zM541 403h2v1h-2zM1361 403h1v1h-1zM453 404h5v1h-5zM509 404h4v1h-4zM538 404h3v1h-3zM1362 404h1v1h-1zM458 405h3v1h-3zM507 405h2v1h-2zM513 405h6v1h-6zM536 405h2v1h-2zM1363 405h1v1h-1zM461 406h2v1h-2zM505 406h2v1h-2zM519 406h17v1h-17zM1364 406h1v1h-1zM463 407h2v1h-2zM503 407h2v1h-2zM1365 407h1v1h-1zM465 408h2v1h-2zM501 408h2v1h-2zM1366 408h1v1h-1zM467 409h2v1h-2zM499 409h2v1h-2zM1367 409h1v1h-1zM469 410h2v1h-2zM496 410h3v1h-3zM1368 410h1v1h-1zM471 411h2v1h-2zM492 411h4v1h-4zM1369 411h1v1h-1zM473 412h7v1h-7zM488 412h4v1h-4zM1370 412h1v1h-1zM480 413h8v1h-8zM1371 413h1v1h-1zM1372 414h1v1h-1zM1373 415h2v1h-2zM1375 416h1v1h-1zM1376 417h1v1h-1zM1377 418h1v1h-1zM1378 419h1v1h-1zM1379 420h2v1h-2zM1381 421h1v1h-1zM1382 422h1v1h-1zM1383 423h1v1h-1zM1384 424h1v1h-1zM1385 425h2v1h-2zM1387 426h1v1h-1zM1388 427h1v1h-1zM1389 428h1v1h-1zM1390 429h1v1h-1zM1391 430h2v1h-2zM1393 431h1v1h-1zM1394 432h1v1h-1zM1395 433h2v1h-2zM1397 434h1v1h-1zM1398 435h2v1h-2zM1400 436h2v1h-2zM1402 437h1v1h-1zM1403 438h2v1h-2zM1405 439h1v1h-1z"/>
<path fill="#3cb371" d="M27 135h4v1h-4zM20 136h7v1h-7zM31 136h1v1h-1zM15 137h5v1h-5zM32 137h1v1h-1zM13 138h2v1h-2zM33 138h1v1h-1zM11 139h2v1h-2zM34 139h1v1h-1zM9 140h2v1h-2zM35 140h1v1h-1zM7 141h2v1h-2zM36 141h1v1h-1zM6 142h1v2h-1zM37 142h1v1h-1zM38 143h1v2h-1zM5 144h1v2h-1zM39 145h1v1h-1zM4 146h1v2h-1zM40 146h1v1h-1zM41 147h1v2h-1zM3 148h1v2h-1zM42 149h1v1h-1zM2 150h1v2h-1zM43 150h1v1h-1zM44 151h1v1h-1zM1 152h1v2h-1zM45 152h1v1h-1zM46 153h1v1h-1zM0 154h1v1h-1zM47 154h1v1h-1zM48 155h5v1h-5zM53 156h6v1h-6zM59 157h1v1h-1zM60 158h2v1h-2zM62 159h1v1h-1zM63 160h1v1h-1zM64 161h2v1h-2zM66 162h2v1h-2zM68 163h2v1h-2zM70 164h2v1h-2zM72 165h2v1h-2zM74 166h3v1h-3zM77 167h2v1h-2zM79 168h2v1h-2zM81 169h2v1h-2zM83 170h3v1h-3zM86 171h4v1h-4zM90 172h4v1h-4zM94 173h4v1h-4zM98 174h5v1h-5zM103 175h4v1h-4zM107 176h5v1h-5zM112 177h4v1h-4zM116 178h3v1h-3zM119 179h3v1h-3zM122 180h3v1h-3zM125 181h2v1h-2zM127 182h1v1h-1zM128 183h1v1h-1zM129 184h2v1h-2zM131 185h1v1h-1zM132 186h1v1h-1zM133 187h1v2h-1zM134 189h1v2h-1zM135 191h1v2h-1zM136 193h1v2h-1zM137 195h1v2h-1zM138 197h1v2h-1zM139 199h1v2h-1zM140 201h1v2h-1zM141 203h1v2h-1zM142 205h1v1h-1zM143 206h1v1h-1zM144 207h1v2h-1zM145 209h1v1h-1zM146 210h1v2h-1zM147 212h1v1h-1zM148 213h1v1h-1zM149 214h1v2h-1zM150 216h1v1h-1zM151 217h1v2h-1zM152 219h1v1h-1zM153 220h1v2h-1zM154 222h1v1h-1zM155 223h1v2h-1zM156 225h1v1h-1zM157 226h1v2h-1zM158 228h1v1h-1zM159 229h1v2h-1zM160 231h1v2h-1zM161 233h1v1h-1zM162 234h1v2h-1zM163 236h1v2h-1zM164 238h1v1h-1zM165 239h1v2h-1zM166 241h1v2h-1zM167 243h1v1h-1zM168 244h1v2h-1zM169 246h1v2h-1zM170 248h1v1h-1zM171 249h1v1h-1zM172 250h1v2h-1zM173 252h1v1h-1zM174 253h1v1h-1zM175 254h1v2h-1zM176 256h1v1h-1zM177 257h2v1h-2zM179 258h2v1h-2zM181 259h1v1h-1zM182 260h2v1h-2zM184 261h2v1h-2zM186 262h1v1h-1zM187 263h1v1h-1zM188 264h2v1h-2zM190 265h1v1h-1zM191 266h1v1h-1zM192 267h2v1h-2zM194 268h1v1h-1zM195 269h1v2h-1zM196 271h1v2h-1zM197 273h1v1h-1zM198 274h1v2h-1zM199 276h1v2h-1zM200 278h1v1h-1zM201 279h1v2h-1zM202 281h1v2h-1zM203 283h1v2h-1zM204 285h1v2h-1zM205 287h1v2h-1zM206 289h1v2h-1zM765 290h2v1h-2zM207 291h1v1h-1zM763 291h2v1h-2zM767 291h1v1h-1zM208 292h1v1h-1zM761 292h2v1h-2zM768 292h1v1h-1zM209 293h1v1h-1zM759 293h2v1h-2zM769 293h1v1h-1zM210 294h1v1h-1zM758 294h1v1h-1zM770 294h2v1h-2zM211 295h1v1h-1zM757 295h1v1h-1zM772 295h1v1h-1zM212 296h1v1h-1zM756 296h1v1h-1zM773 296h1v1h-1zM213 297h1v1h-1zM755 297h1v1h-1zM774 297h1v1h-1zM214 298h1v1h-1zM754 298h1v1h-1zM775 298h2v1h-2zM215 299h1v1h-1zM753 299h1v1h-1zM777 299h1v1h-1zM1030 299h1v1h-1zM216 300h1v1h-1zM752 300h1v1h-1zM778 300h1v1h-1zM1028 300h2v1h-2zM1031 300h1v2h-1zM217 301h1v1h-1zM751 301h1v1h-1zM779 301h2v1h-2zM1027 301h1v1h-1zM218 302h1v1h-1zM750 302h1v1h-1zM781 302h1v1h-1zM789 302h3v1h-3zM990 302h10v1h-10zM1026 302h1v1h-1zM1032 302h1v1h-1zM219 303h2v1h-2zM749 303h1v1h-1zM782 303h2v1h-2zM786 303h3v1h-3zM792 303h2v1h-2zM988 303h2v1h-2zM1000 303h2v1h-2zM1024 303h2v1h-2zM1033 303h1v2h-1zM221 304h1v1h-1zM748 304h1v2h-1zM784 304h2v1h-2zM794 304h3v1h-3zM987 304h1v1h-1zM1002 304h3v1h-3zM1023 304h1v1h-1zM222 305h2v1h-2zM797 305h3v1h-3zM986 305h1v1h-1zM1005 305h18v1h-18zM1034 305h1v1h-1zM224 306h1v1h-1zM747 306h1v2h-1zM800 306h4v1h-4zM984 306h2v1h-2zM1035 306h1v2h-1zM225 307h2v1h-2zM804 307h3v1h-3zM891 307h2v1h-2zM983 307h1v1h-1zM227 308h1v1h-1zM746 308h1v2h-1zM807 308h2v1h-2zM888 308h3v1h-3zM893 308h2v1h-2zM982 308h1v1h-1zM1036 308h1v1h-1zM228 309h2v1h-2zM809 309h2v1h-2zM885 309h3v1h-3zM895 309h1v1h-1zM980 309h2v1h-2zM1037 309h1v2h-1zM230 310h4v1h-4zM745 310h1v2h-1zM811 310h1v1h-1zM883 310h2v1h-2zM896 310h2v1h-2zM979 310h1v1h-1zM234 311h7v1h-7zM812 311h2v1h-2zM880 311h3v1h-3zM898 311h1v1h-1zM978 311h1v1h-1zM1038 311h1v2h-1zM241 312h4v1h-4zM744 312h1v2h-1zM814 312h2v1h-2zM878 312h2v1h-2zM899 312h2v1h-2zM976 312h2v1h-2zM245 313h1v1h-1zM816 313h2v1h-2zM876 313h2v1h-2zM901 313h2v1h-2zM975 313h1v1h-1zM1039 313h1v1h-1zM246 314h1v1h-1zM743 314h1v2h-1zM818 314h2v1h-2zM874 314h2v1h-2zM903 314h1v1h-1zM974 314h1v1h-1zM1040 314h1v2h-1zM247 315h1v1h-1zM820 315h2v1h-2zM872 315h2v1h-2zM904 315h2v1h-2zM972 315h2v1h-2zM248 316h1v1h-1zM742 316h1v2h-1zM822 316h2v1h-2zM871 316h1v1h-1zM906 316h1v1h-1zM971 316h1v1h-1zM1041 316h1v2h-1zM249 317h1v2h-1zM824 317h3v1h-3zM869 317h2v1h-2zM907 317h2v1h-2zM970 317h1v1h-1zM741 318h1v2h-1zM827 318h2v1h-2zM867 318h2v1h-2zM909 318h2v1h-2zM968 318h2v1h-2zM1042 318h1v2h-1zM250 319h1v2h-1zM829 319h6v1h-6zM865 319h2v1h-2zM911 319h2v1h-2zM967 319h1v1h-1zM740 320h1v2h-1zM835 320h9v1h-9zM856 320h9v1h-9zM913 320h2v1h-2zM964 320h3v1h-3zM1043 320h1v1h-1zM251 321h1v2h-1zM844 321h12v1h-12zM915 321h1v1h-1zM942 321h2v1h-2zM960 321h4v1h-4zM1044 321h1v2h-1zM739 322h1v3h-1zM916 322h2v1h-2zM940 322h2v1h-2zM944 322h2v1h-2zM956 322h4v1h-4zM252 323h1v2h-1zM918 323h2v1h-2zM939 323h1v1h-1zM946 323h3v1h-3zM952 323h4v1h-4zM1045 323h1v2h-1zM920 324h2v1h-2zM938 324h1v1h-1zM949 324h3v1h-3zM253 325h1v2h-1zM738 325h1v3h-1zM922 325h2v1h-2zM936 325h2v1h-2zM1046 325h1v1h-1zM924 326h5v1h-5zM935 326h1v1h-1zM1047 326h1v2h-1zM254 327h1v2h-1zM929 327h6v1h-6zM737 328h1v4h-1zM1048 328h1v1h-1zM255 329h1v2h-1zM1049 329h1v1h-1zM1050 330h1v2h-1zM256 331h1v2h-1zM736 332h1v3h-1zM1051 332h1v1h-1zM257 333h1v2h-1zM1052 333h1v1h-1zM1053 334h1v2h-1zM258 335h1v2h-1zM735 335h1v3h-1zM1054 336h1v1h-1zM259 337h1v2h-1zM1055 337h1v2h-1zM734 338h1v2h-1zM260 339h1v2h-1zM1056 339h1v1h-1zM733 340h1v2h-1zM1057 340h1v2h-1zM261 341h1v1h-1zM262 342h1v2h-1zM732 342h1v1h-1zM1058 342h1v1h-1zM731 343h1v2h-1zM1059 343h1v2h-1zM263 344h1v1h-1zM264 345h1v1h-1zM730 345h1v1h-1zM1060 345h1v1h-1zM265 346h1v2h-1zM729 346h1v1h-1zM1061 346h1v2h-1zM728 347h1v2h-1zM266 348h1v1h-1zM1062 348h1v1h-1zM267 349h1v2h-1zM727 349h1v1h-1zM1063 349h1v1h-1zM726 350h1v1h-1zM1064 350h1v2h-1zM268 351h1v1h-1zM725 351h1v1h-1zM269 352h2v1h-2zM724 352h1v1h-1zM1065 352h1v1h-1zM271 353h2v1h-2zM723 353h1v1h-1zM1066 353h1v1h-1zM273 354h1v1h-1zM722 354h1v1h-1zM1067 354h1v1h-1zM274 355h2v1h-2zM721 355h1v1h-1zM1068 355h1v2h-1zM276 356h2v1h-2zM720 356h1v1h-1zM278 357h4v1h-4zM719 357h1v1h-1zM1069 357h1v1h-1zM282 358h5v1h-5zM718 358h1v1h-1zM1070 358h1v2h-1zM287 359h1v2h-1zM717 359h1v1h-1zM716 360h1v1h-1zM1071 360h1v2h-1zM288 361h1v2h-1zM715 361h1v1h-1zM714 362h1v1h-1zM1072 362h1v2h-1zM289 363h1v2h-1zM713 363h1v1h-1zM712 364h1v1h-1zM1073 364h1v3h-1zM290 365h1v2h-1zM711 365h1v1h-1zM710 366h1v1h-1zM291 367h1v2h-1zM709 367h1v1h-1zM1074 367h1v2h-1zM708 368h1v1h-1zM292 369h1v3h-1zM707 369h1v1h-1zM1075 369h1v2h-1zM706 370h1v1h-1zM705 371h1v1h-1zM1076 371h1v3h-1zM293 372h1v2h-1zM704 372h1v1h-1zM703 373h1v1h-1zM294 374h1v2h-1zM702 374h1v1h-1zM1077 374h1v3h-1zM701 375h1v2h-1zM295 376h1v3h-1zM700 377h1v2h-1zM1078 377h1v3h-1zM296 379h1v2h-1zM699 379h1v2h-1zM1079 380h1v3h-1zM297 381h1v2h-1zM698 381h1v2h-1zM1202 381h21v1h-21zM1194 382h8v1h-8zM1223 382h2v1h-2zM298 383h1v3h-1zM697 383h1v2h-1zM1080 383h1v3h-1zM1190 383h4v1h-4zM1225 383h2v1h-2zM1188 384h2v1h-2zM1227 384h2v1h-2zM696 385h1v2h-1zM1187 385h1v1h-1zM1229 385h2v1h-2zM299 386h1v2h-1zM1081 386h1v3h-1zM1186 386h1v1h-1zM1231 386h2v1h-2zM695 387h1v2h-1zM1184 387h2v1h-2zM1233 387h2v1h-2zM300 388h1v3h-1zM1183 388h1v1h-1zM1235 388h2v1h-2zM1246 388h10v1h-10zM694 389h1v2h-1zM1082 389h1v2h-1zM1176 389h7v1h-7zM1237 389h9v1h-9zM1256 389h2v1h-2zM1162 390h14v1h-14zM1258 390h2v1h-2zM301 391h1v3h-1zM693 391h1v2h-1zM1083 391h1v2h-1zM1152 391h10v1h-10zM1260 391h2v1h-2zM1148 392h4v1h-4zM1262 392h3v1h-3zM692 393h1v2h-1zM1084 393h1v2h-1zM1144 393h4v1h-4zM1265 393h2v1h-2zM302 394h1v2h-1zM1142 394h2v1h-2zM1267 394h2v1h-2zM691 395h1v3h-1zM1085 395h1v2h-1zM1141 395h1v1h-1zM1269 395h2v1h-2zM303 396h1v3h-1zM1140 396h1v1h-1zM1271 396h1v1h-1zM1086 397h1v2h-1zM1139 397h1v1h-1zM1272 397h1v1h-1zM690 398h1v2h-1zM1138 398h1v1h-1zM1273 398h1v1h-1zM304 399h1v2h-1zM1087 399h1v2h-1zM1137 399h1v1h-1zM1274 399h1v1h-1zM689 400h1v3h-1zM1136 400h1v1h-1zM1275 400h1v2h-1zM305 401h1v1h-1zM1088 401h1v2h-1zM1135 401h1v1h-1zM306 402h1v1h-1zM1134 402h1v1h-1zM1276 402h1v1h-1zM307 403h1v1h-1zM688 403h1v3h-1zM1089 403h1v1h-1zM1133 403h1v2h-1zM1277 403h1v1h-1zM308 404h1v1h-1zM1090 404h1v1h-1zM1278 404h1v1h-1zM309 405h1v2h-1zM1091 405h1v1h-1zM1132 405h1v2h-1zM1279 405h1v1h-1zM687 406h1v2h-1zM1092 406h1v1h-1zM1280 406h1v1h-1zM310 407h1v1h-1zM1093 407h1v1h-1zM1131 407h1v1h-1zM1281 407h1v2h-1zM311 408h1v1h-1zM686 408h1v3h-1zM1094 408h1v1h-1zM1130 408h1v2h-1zM312 409h1v1h-1zM1095 409h1v1h-1zM1282 409h1v1h-1zM313 410h1v1h-1zM1096 410h1v1h-1zM1129 410h1v1h-1zM1283 410h1v1h-1zM314 411h1v1h-1zM685 411h1v3h-1zM1097 411h2v1h-2zM1128 411h1v2h-1zM1284 411h1v1h-1zM315 412h1v1h-1zM1099 412h1v1h-1zM1285 412h1v1h-1zM316 413h1v1h-1zM1100 413h1v1h-1zM1127 413h1v2h-1zM1286 413h1v2h-1zM317 414h1v1h-1zM684 414h1v3h-1zM1101 414h2v1h-2zM318 415h1v1h-1zM1103 415h1v1h-1zM1126 415h1v1h-1zM1287 415h1v1h-1zM319 416h1v1h-1zM1104 416h2v1h-2zM1125 416h1v1h-1zM1288 416h1v1h-1zM320 417h1v2h-1zM683 417h1v3h-1zM1106 417h1v1h-1zM1124 417h1v1h-1zM1289 417h1v2h-1zM1107 418h2v1h-2zM1123 418h1v1h-1zM321 419h1v1h-1zM1109 419h2v1h-2zM1122 419h1v1h-1zM1290 419h1v1h-1zM322 420h1v1h-1zM682 420h1v3h-1zM1111 420h2v1h-2zM1121 420h1v1h-1zM1291 420h1v1h-1zM323 421h1v1h-1zM1113 421h2v1h-2zM1120 421h1v1h-1zM1292 421h1v2h-1zM324 422h1v1h-1zM1115 422h2v1h-2zM1119 422h1v1h-1zM325 423h1v1h-1zM681 423h1v2h-1zM1117 423h2v1h-2zM1293 423h1v1h-1zM326 424h1v1h-1zM1294 424h1v2h-1zM327 425h1v2h-1zM680 425h1v3h-1zM1295 426h1v1h-1zM328 427h1v2h-1zM1296 427h1v2h-1zM679 428h1v3h-1zM329 429h1v2h-1zM1297 429h1v1h-1zM1298 430h1v1h-1zM330 431h1v1h-1zM678 431h1v2h-1zM1299 431h1v2h-1zM331 432h1v2h-1zM677 433h1v1h-1zM1300 433h1v1h-1zM332 434h1v2h-1zM676 434h1v1h-1zM1301 434h1v1h-1zM675 435h1v1h-1zM1302 435h1v1h-1zM333 436h1v2h-1zM674 436h1v1h-1zM1303 436h1v2h-1zM673 437h1v1h-1zM334 438h1v2h-1zM672 438h1v1h-1zM1304 438h1v1h-1zM671 439h1v1h-1zM1305 439h1v1h-1zM335 440h1v4h-1zM670 440h1v1h-1zM1306 440h1v1h-1zM669 441h1v1h-1zM1307 441h1v1h-1zM668 442h1v1h-1zM1308 442h1v2h-1zM667 443h1v1h-1zM336 444h1v3h-1zM666 444h1v1h-1zM1309 444h1v1h-1zM665 445h1v1h-1zM1310 445h2v1h-2zM663 446h2v1h-2zM1312 446h2v1h-2zM337 447h1v4h-1zM662 447h1v1h-1zM1314 447h3v1h-3zM661 448h1v1h-1zM1317 448h2v1h-2zM660 449h1v1h-1zM1319 449h1v1h-1zM658 450h2v1h-2zM1320 450h1v1h-1zM338 451h1v4h-1zM657 451h1v1h-1zM1321 451h1v1h-1zM656 452h1v1h-1zM1322 452h1v1h-1zM655 453h1v1h-1zM1323 453h1v1h-1zM653 454h2v1h-2zM1324 454h1v1h-1zM339 455h1v3h-1zM652 455h1v1h-1zM1325 455h1v1h-1zM651 456h1v1h-1zM1326 456h1v1h-1zM650 457h1v1h-1zM1327 457h1v2h-1zM340 458h1v4h-1zM637 458h3v1h-3zM648 458h2v1h-2zM635 459h2v1h-2zM640 459h4v1h-4zM647 459h1v1h-1zM1328 459h1v1h-1zM633 460h2v1h-2zM644 460h3v1h-3zM1329 460h1v2h-1zM631 461h2v1h-2zM341 462h1v3h-1zM630 462h1v1h-1zM1330 462h1v1h-1zM629 463h1v2h-1zM1331 463h1v2h-1zM342 465h1v4h-1zM628 465h1v2h-1zM1332 465h1v1h-1zM1333 466h1v2h-1zM627 467h1v2h-1zM1334 468h1v1h-1zM343 469h1v4h-1zM626 469h1v1h-1zM1335 469h1v2h-1zM625 470h1v2h-1zM1336 471h1v2h-1zM624 472h1v2h-1zM344 473h1v3h-1zM1337 473h1v2h-1zM623 474h1v2h-1zM1338 475h1v1h-1zM345 476h1v2h-1zM550 476h10v1h-10zM622 476h1v2h-1zM1339 476h1v2h-1zM548 477h2v1h-2zM560 477h3v1h-3zM346 478h1v3h-1zM546 478h2v1h-2zM563 478h3v1h-3zM621 478h1v2h-1zM1340 478h1v2h-1zM544 479h2v1h-2zM566 479h4v1h-4zM542 480h2v1h-2zM570 480h3v1h-3zM620 480h1v2h-1zM1341 480h1v2h-1zM347 481h1v3h-1zM541 481h1v1h-1zM573 481h18v1h-18zM510 482h6v1h-6zM539 482h2v1h-2zM591 482h2v1h-2zM619 482h1v2h-1zM1342 482h1v1h-1zM509 483h1v2h-1zM516 483h9v1h-9zM537 483h2v1h-2zM593 483h2v1h-2zM1343 483h1v1h-1zM348 484h1v2h-1zM445 484h10v1h-10zM525 484h6v1h-6zM535 484h2v1h-2zM595 484h2v1h-2zM618 484h1v2h-1zM1344 484h1v2h-1zM443 485h2v1h-2zM455 485h1v2h-1zM508 485h1v1h-1zM531 485h4v1h-4zM597 485h2v1h-2zM349 486h1v3h-1zM441 486h2v1h-2zM507 486h1v2h-1zM599 486h2v1h-2zM617 486h1v2h-1zM1345 486h1v1h-1zM439 487h2v1h-2zM456 487h1v2h-1zM601 487h2v1h-2zM1346 487h1v1h-1zM435 488h4v1h-4zM506 488h1v1h-1zM603 488h2v1h-2zM616 488h1v2h-1zM1347 488h1v1h-1zM350 489h1v1h-1zM429 489h6v1h-6zM457 489h1v1h-1zM505 489h1v2h-1zM605 489h3v1h-3zM1348 489h1v2h-1zM350 490h2v1h-2zM409 490h20v1h-20zM458 490h1v2h-1zM608 490h2v1h-2zM615 490h1v2h-1zM352 491h2v1h-2zM407 491h2v1h-2zM504 491h1v1h-1zM610 491h3v1h-3zM1349 491h1v1h-1zM354 492h3v1h-3zM405 492h2v1h-2zM459 492h1v2h-1zM503 492h1v2h-1zM613 492h2v1h-2zM1350 492h1v1h-1zM357 493h2v1h-2zM404 493h1v1h-1zM1351 493h1v2h-1zM359 494h2v1h-2zM403 494h1v1h-1zM460 494h1v1h-1zM502 494h1v1h-1zM361 495h1v1h-1zM402 495h1v2h-1zM461 495h1v1h-1zM501 495h1v2h-1zM1352 495h1v2h-1zM362 496h1v1h-1zM462 496h1v1h-1zM363 497h1v2h-1zM401 497h1v1h-1zM463 497h1v1h-1zM500 497h1v2h-1zM1353 497h1v2h-1zM400 498h1v1h-1zM464 498h1v1h-1zM364 499h1v1h-1zM399 499h1v1h-1zM465 499h1v1h-1zM499 499h1v1h-1zM1354 499h1v2h-1zM365 500h1v1h-1zM398 500h1v1h-1zM466 500h1v1h-1zM498 500h1v2h-1zM366 501h1v1h-1zM397 501h1v2h-1zM467 501h1v1h-1zM1355 501h1v2h-1zM367 502h2v1h-2zM468 502h1v1h-1zM497 502h1v1h-1zM369 503h2v1h-2zM396 503h1v2h-1zM469 503h11v1h-11zM496 503h1v2h-1zM1356 503h1v2h-1zM371 504h1v1h-1zM480 504h2v1h-2zM372 505h2v1h-2zM395 505h1v2h-1zM482 505h3v1h-3zM495 505h1v2h-1zM1357 505h1v2h-1zM374 506h2v1h-2zM485 506h5v1h-5zM376 507h1v1h-1zM394 507h1v1h-1zM490 507h5v1h-5zM1358 507h1v2h-1zM377 508h2v1h-2zM393 508h1v2h-1zM379 509h2v1h-2zM1359 509h1v2h-1zM381 510h2v1h-2zM392 510h1v2h-1zM383 511h2v1h-2zM1360 511h1v2h-1zM385 512h2v1h-2zM391 512h1v2h-1zM387 513h2v1h-2zM1361 513h1v2h-1zM389 514h2v1h-2zM1362 515h1v1h-1zM1363 516h1v2h-1zM1364 518h1v2h-1zM1373 519h5v1h-5zM1365 520h1v2h-1zM1370 520h3v1h-3zM1378 520h5v1h-5zM1368 521h2v1h-2zM1383 521h1v1h-1zM1366 522h2v1h-2zM1384 522h2v1h-2zM1386 523h1v1h-1zM1387 524h1v1h-1zM1388 525h2v1h-2zM1390 526h1v1h-1zM1391 527h1v1h-1zM1392 528h2v1h-2zM1394 529h1v1h-1zM1395 530h1v1h-1zM1396 531h2v1h-2zM1398 532h1v1h-1zM1399 533h2v1h-2zM1401 534h2v1h-2zM1403 535h2v1h-2zM1405 536h1v1h-1z"/>
</g>
<g shape-rendering="crispEdges">
<path d="M6 104V127M14 107V127M22 104V118M30 104V115M38 112V180M46 150V190M54 140V171M62 129V147M70 141V161M78 141V159M86 132V152M94 135V148M102 138V146M110 137V150M118 135V155M126 148V168M134 157V200M142 180V241M150 208V250M158 211V243M166 219V251M174 243V266M182 216V269M190 203V248M198 210V264M206 242V292M214 262V293M222 251V268M230 256V281M238 215V271M246 211V267M254 258V364M262 332V374M270 319V353M278 319V345M286 311V376M294 305V394M302 377V412M310 380V406M318 363V389M326 363V385M334 368V429M342 406V534M350 464V579M358 372V495M366 382V435M374 417V451M382 388V449M390 417V518M398 353V469M406 353V446M414 384V415M422 384V405M430 333V393M438 318V387M446 318V418M454 397V467M462 397V501M470 452V496M478 409V464M486 324V443M494 329V445M502 387V446M510 381V420M518 387V410M526 396V458M534 412V488M542 381V441M550 330V398M558 331V356M566 321V354M574 316V335M582 328V364M590 314V379M598 289V347M606 267V317M614 277V297M622 269V287M630 256V295M638 254V293M646 256V281M654 221V259M662 226V234M670 218V232M678 216V240M686 212V245M694 190V239M702 178V204M710 193V204M718 194V201M726 195V219M734 194V249M742 220V263M750 240V280M758 239V262M766 238V251M774 237V309M782 262V322M790 255V323M798 237V285M806 265V277M814 268V301M822 265V287M830 269V300M838 254V290M846 243V292M854 238V290M862 265V282M870 267V282M878 250V280M886 251V280M894 216V256M902 204V245M910 200V213M918 191V208M926 183V208M934 162V189M942 161V184M950 154V183M958 159V178M966 160V173M974 156V173M982 153V217M990 172V254M998 233V273M1006 262V279M1014 264V294M1022 255V281M1030 219V274M1038 224V339M1046 302V348M1054 313V336M1062 310V332M1070 309V334M1078 317V389M1086 314V386M1094 328V396M1102 340V380M1110 342V363M1118 352V374M1126 288V370M1134 276V314M1142 278V308M1150 283V313M1158 293V300M1166 284V298M1174 261V306M1182 286V329M1190 285V340M1198 277V301M1206 292V313M1214 302V324M1222 294V329M1230 294V373M1238 346V380M1246 377V401M1254 359V396M1262 349V369M1270 355V382M1278 365V414M1286 393V441M1294 387V443M1302 434V452M1310 392V448M1318 373V407M1326 380V447M1334 434V471M1342 450V473M1350 488V521M1358 481V515M1366 482V511M1374 427V512M1382 420V483M1390 460V540M1398 470V520M1406 489V492" stroke="#000" stroke-width="1" fill="none" transform="translate(0.5,0)"/>
<path d="M4 104h5v6h-5zM12 110h5v9h-5zM28 109h5v5h-5zM36 112h5v45h-5zM44 156h5v15h-5zM60 137h5v7h-5zM68 144h5v6h-5zM92 136h5v4h-5zM100 139h5v2h-5zM108 140h5v2h-5zM116 140h5v12h-5zM124 151h5v7h-5zM132 158h5v28h-5zM140 184h5v48h-5zM156 211h5v22h-5zM164 232h5v16h-5zM172 247h5v15h-5zM188 218h5v18h-5zM196 235h5v17h-5zM204 250h5v42h-5zM220 263h5v1h-5zM228 262h5v2h-5zM244 218h5v47h-5zM252 263h5v73h-5zM260 335h5v17h-5zM276 326h5v12h-5zM292 322h5v71h-5zM300 392h5v17h-5zM324 368h5v14h-5zM332 381h5v28h-5zM340 408h5v87h-5zM364 384h5v49h-5zM380 423h5v6h-5zM388 428h5v29h-5zM404 355h5v38h-5zM420 386h5v6h-5zM436 334h5v34h-5zM444 367h5v30h-5zM452 398h5v1h-5zM460 398h5v95h-5zM492 340h5v89h-5zM516 396h5v2h-5zM524 396h5v49h-5zM556 337h5v10h-5zM572 321h5v8h-5zM580 328h5v31h-5zM612 280h5v2h-5zM628 274h5v7h-5zM668 229h5v2h-5zM684 220h5v5h-5zM700 195h5v5h-5zM716 195h5v1h-5zM724 195h5v16h-5zM732 210h5v19h-5zM740 228h5v28h-5zM756 245h5v5h-5zM772 246h5v60h-5zM780 304h5v13h-5zM796 255h5v24h-5zM804 268h5v1h-5zM812 269h5v18h-5zM828 272h5v13h-5zM852 247h5v21h-5zM860 267h5v8h-5zM868 274h5v4h-5zM916 201h5v4h-5zM940 162h5v11h-5zM956 161h5v10h-5zM972 160h5v6h-5zM980 165h5v22h-5zM988 186h5v63h-5zM996 248h5v15h-5zM1004 262h5v9h-5zM1012 269h5v1h-5zM1020 269h5v4h-5zM1036 234h5v88h-5zM1044 321h5v4h-5zM1060 315h5v2h-5zM1068 316h5v2h-5zM1076 318h5v46h-5zM1084 362h5v21h-5zM1108 345h5v9h-5zM1116 353h5v12h-5zM1140 281h5v12h-5zM1148 292h5v5h-5zM1156 296h5v1h-5zM1172 288h5v5h-5zM1180 293h5v35h-5zM1196 291h5v9h-5zM1204 298h5v15h-5zM1220 302h5v17h-5zM1228 317h5v42h-5zM1236 358h5v21h-5zM1244 378h5v8h-5zM1260 361h5v4h-5zM1268 364h5v13h-5zM1276 376h5v30h-5zM1292 394h5v26h-5zM1324 383h5v51h-5zM1332 434h5v18h-5zM1340 451h5v21h-5zM1348 490h5v8h-5zM1356 495h5v15h-5zM1364 509h5v1h-5zM1380 442h5v31h-5zM1388 472h5v19h-5zM1396 489h5v2h-5zM1404 490h5v2h-5z" fill="#000"/>
<rect x="20" y="110" width="5" height="8" fill="#000"/>
<rect x="21" y="111" width="3" height="6" fill="#fff"/>
<rect x="52" y="142" width="5" height="29" fill="#000"/>
<rect x="53" y="143" width="3" height="27" fill="#fff"/>
<rect x="76" y="144" width="5" height="5" fill="#000"/>
<rect x="77" y="145" width="3" height="3" fill="#fff"/>
<rect x="84" y="136" width="5" height="10" fill="#000"/>
<rect x="85" y="137" width="3" height="8" fill="#fff"/>
<rect x="148" y="212" width="5" height="21" fill="#000"/>
<rect x="149" y="213" width="3" height="19" fill="#fff"/>
<rect x="180" y="218" width="5" height="43" fill="#000"/>
<rect x="181" y="219" width="3" height="41" fill="#fff"/>
<rect x="212" y="263" width="5" height="26" fill="#000"/>
<rect x="213" y="264" width="3" height="24" fill="#fff"/>
<rect x="236" y="218" width="5" height="45" fill="#000"/>
<rect x="237" y="219" width="3" height="43" fill="#fff"/>
<rect x="268" y="326" width="5" height="26" fill="#000"/>
<rect x="269" y="327" width="3" height="24" fill="#fff"/>
<rect x="284" y="322" width="5" height="16" fill="#000"/>
<rect x="285" y="323" width="3" height="14" fill="#fff"/>
<rect x="308" y="380" width="5" height="25" fill="#000"/>
<rect x="309" y="381" width="3" height="23" fill="#fff"/>
<rect x="316" y="368" width="5" height="13" fill="#000"/>
<rect x="317" y="369" width="3" height="11" fill="#fff"/>
<rect x="348" y="491" width="5" height="6" fill="#000"/>
<rect x="349" y="492" width="3" height="4" fill="#fff"/>
<rect x="356" y="385" width="5" height="108" fill="#000"/>
<rect x="357" y="386" width="3" height="106" fill="#fff"/>
<rect x="372" y="422" width="5" height="11" fill="#000"/>
<rect x="373" y="423" width="3" height="9" fill="#fff"/>
<rect x="396" y="355" width="5" height="102" fill="#000"/>
<rect x="397" y="356" width="3" height="100" fill="#fff"/>
<rect x="412" y="386" width="5" height="6" fill="#000"/>
<rect x="413" y="387" width="3" height="4" fill="#fff"/>
<rect x="428" y="334" width="5" height="58" fill="#000"/>
<rect x="429" y="335" width="3" height="56" fill="#fff"/>
<rect x="468" y="461" width="5" height="33" fill="#000"/>
<rect x="469" y="462" width="3" height="31" fill="#fff"/>
<rect x="476" y="414" width="5" height="48" fill="#000"/>
<rect x="477" y="415" width="3" height="46" fill="#fff"/>
<rect x="484" y="340" width="5" height="74" fill="#000"/>
<rect x="485" y="341" width="3" height="72" fill="#fff"/>
<rect x="500" y="404" width="5" height="25" fill="#000"/>
<rect x="501" y="405" width="3" height="23" fill="#fff"/>
<rect x="508" y="398" width="5" height="9" fill="#000"/>
<rect x="509" y="399" width="3" height="7" fill="#fff"/>
<rect x="532" y="426" width="5" height="19" fill="#000"/>
<rect x="533" y="427" width="3" height="17" fill="#fff"/>
<rect x="540" y="389" width="5" height="37" fill="#000"/>
<rect x="541" y="390" width="3" height="35" fill="#fff"/>
<rect x="548" y="345" width="5" height="45" fill="#000"/>
<rect x="549" y="346" width="3" height="43" fill="#fff"/>
<rect x="564" y="322" width="5" height="26" fill="#000"/>
<rect x="565" y="323" width="3" height="24" fill="#fff"/>
<rect x="588" y="329" width="5" height="31" fill="#000"/>
<rect x="589" y="330" width="3" height="29" fill="#fff"/>
<rect x="596" y="292" width="5" height="38" fill="#000"/>
<rect x="597" y="293" width="3" height="36" fill="#fff"/>
<rect x="604" y="281" width="5" height="12" fill="#000"/>
<rect x="605" y="282" width="3" height="10" fill="#fff"/>
<rect x="620" y="274" width="5" height="8" fill="#000"/>
<rect x="621" y="275" width="3" height="6" fill="#fff"/>
<rect x="636" y="262" width="5" height="19" fill="#000"/>
<rect x="637" y="263" width="3" height="17" fill="#fff"/>
<rect x="644" y="257" width="5" height="6" fill="#000"/>
<rect x="645" y="258" width="3" height="4" fill="#fff"/>
<rect x="652" y="233" width="5" height="25" fill="#000"/>
<rect x="653" y="234" width="3" height="23" fill="#fff"/>
<rect x="660" y="230" width="5" height="3" fill="#000"/>
<rect x="661" y="231" width="3" height="1" fill="#fff"/>
<rect x="676" y="220" width="5" height="10" fill="#000"/>
<rect x="677" y="221" width="3" height="8" fill="#fff"/>
<rect x="692" y="195" width="5" height="31" fill="#000"/>
<rect x="693" y="196" width="3" height="29" fill="#fff"/>
<rect x="708" y="194" width="5" height="6" fill="#000"/>
<rect x="709" y="195" width="3" height="4" fill="#fff"/>
<rect x="748" y="245" width="5" height="11" fill="#000"/>
<rect x="749" y="246" width="3" height="9" fill="#fff"/>
<rect x="764" y="246" width="5" height="5" fill="#000"/>
<rect x="765" y="247" width="3" height="3" fill="#fff"/>
<rect x="788" y="256" width="5" height="61" fill="#000"/>
<rect x="789" y="257" width="3" height="59" fill="#fff"/>
<rect x="820" y="273" width="5" height="14" fill="#000"/>
<rect x="821" y="274" width="3" height="12" fill="#fff"/>
<rect x="836" y="264" width="5" height="20" fill="#000"/>
<rect x="837" y="265" width="3" height="18" fill="#fff"/>
<rect x="844" y="247" width="5" height="18" fill="#000"/>
<rect x="845" y="248" width="3" height="16" fill="#fff"/>
<rect x="876" y="273" width="5" height="5" fill="#000"/>
<rect x="877" y="274" width="3" height="3" fill="#fff"/>
<rect x="884" y="255" width="5" height="20" fill="#000"/>
<rect x="885" y="256" width="3" height="18" fill="#fff"/>
<rect x="892" y="239" width="5" height="17" fill="#000"/>
<rect x="893" y="240" width="3" height="15" fill="#fff"/>
<rect x="900" y="205" width="5" height="35" fill="#000"/>
<rect x="901" y="206" width="3" height="33" fill="#fff"/>
<rect x="908" y="201" width="5" height="5" fill="#000"/>
<rect x="909" y="202" width="3" height="3" fill="#fff"/>
<rect x="924" y="187" width="5" height="18" fill="#000"/>
<rect x="925" y="188" width="3" height="16" fill="#fff"/>
<rect x="932" y="162" width="5" height="26" fill="#000"/>
<rect x="933" y="163" width="3" height="24" fill="#fff"/>
<rect x="948" y="161" width="5" height="12" fill="#000"/>
<rect x="949" y="162" width="3" height="10" fill="#fff"/>
<rect x="964" y="160" width="5" height="11" fill="#000"/>
<rect x="965" y="161" width="3" height="9" fill="#fff"/>
<rect x="1028" y="233" width="5" height="40" fill="#000"/>
<rect x="1029" y="234" width="3" height="38" fill="#fff"/>
<rect x="1052" y="316" width="5" height="11" fill="#000"/>
<rect x="1053" y="317" width="3" height="9" fill="#fff"/>
<rect x="1092" y="368" width="5" height="14" fill="#000"/>
<rect x="1093" y="369" width="3" height="12" fill="#fff"/>
<rect x="1100" y="347" width="5" height="21" fill="#000"/>
<rect x="1101" y="348" width="3" height="19" fill="#fff"/>
<rect x="1124" y="294" width="5" height="71" fill="#000"/>
<rect x="1125" y="295" width="3" height="69" fill="#fff"/>
<rect x="1132" y="281" width="5" height="14" fill="#000"/>
<rect x="1133" y="282" width="3" height="12" fill="#fff"/>
<rect x="1164" y="288" width="5" height="9" fill="#000"/>
<rect x="1165" y="289" width="3" height="7" fill="#fff"/>
<rect x="1188" y="291" width="5" height="36" fill="#000"/>
<rect x="1189" y="292" width="3" height="34" fill="#fff"/>
<rect x="1212" y="302" width="5" height="11" fill="#000"/>
<rect x="1213" y="303" width="3" height="9" fill="#fff"/>
<rect x="1252" y="361" width="5" height="25" fill="#000"/>
<rect x="1253" y="362" width="3" height="23" fill="#fff"/>
<rect x="1284" y="393" width="5" height="13" fill="#000"/>
<rect x="1285" y="394" width="3" height="11" fill="#fff"/>
<rect x="1300" y="438" width="5" height="10" fill="#000"/>
<rect x="1301" y="439" width="3" height="8" fill="#fff"/>
<rect x="1308" y="404" width="5" height="35" fill="#000"/>
<rect x="1309" y="405" width="3" height="33" fill="#fff"/>
<rect x="1316" y="382" width="5" height="23" fill="#000"/>
<rect x="1317" y="383" width="3" height="21" fill="#fff"/>
<rect x="1372" y="442" width="5" height="68" fill="#000"/>
<rect x="1373" y="443" width="3" height="66" fill="#fff"/>
</g>
<rect x="1319" y="469" width="160" height="8" fill="#00ff00" shape-rendering="crispEdges"/>
<line x1="1197" y1="292.5" x2="1420.5" y2="540.5" stroke="#ff0000" stroke-width="3"/>
<polygon points="1428,548 1416,543 1422.5,536.5" fill="#ff0000"/>
<rect x="1103.5" y="252.5" width="61.0" height="19.0" fill="#fff" stroke="#ff0000" stroke-width="1" shape-rendering="crispEdges"/>
<text x="1105.2" y="267.9" font-size="16.5px" class="lbl" textLength="57.5" lengthAdjust="spacingAndGlyphs">35056.4</text>
<path d="M1165 261.5H1174.5" stroke="#f00" stroke-width="1" shape-rendering="crispEdges"/>
<rect x="1023.5" y="386.5" width="61.0" height="18.0" fill="#fff" stroke="#ff0000" stroke-width="1" shape-rendering="crispEdges"/>
<text x="1025.2" y="401.4" font-size="16.5px" class="lbl" textLength="57.5" lengthAdjust="spacingAndGlyphs">34198.4</text>
<path d="M1085 395.5H1094.5" stroke="#f00" stroke-width="1" shape-rendering="crispEdges"/>
<rect x="1225.5" y="460.5" width="73.0" height="24.0" fill="#fff" stroke="#ff0000" stroke-width="1" shape-rendering="crispEdges"/>
<text x="1226.8" y="480.2" font-size="21.5px" class="lbl" textLength="70.5" lengthAdjust="spacingAndGlyphs">33711.7</text>
<path d="M1215 472.5H1222" stroke="#f00" stroke-width="1" shape-rendering="crispEdges"/>
<rect x="1222.5" y="470.5" width="3" height="4" fill="#fff" stroke="#f00" shape-rendering="crispEdges"/>
<rect x="1319.5" y="530.5" width="61.0" height="19.0" fill="#fff" stroke="#ff0000" stroke-width="1" shape-rendering="crispEdges"/>
<text x="1321.2" y="545.9" font-size="16.5px" class="lbl" textLength="57.5" lengthAdjust="spacingAndGlyphs">33284.8</text>
<path d="M1384 539.5H1390.5" stroke="#f00" stroke-width="1" shape-rendering="crispEdges"/>
<rect x="1381.5" y="537.5" width="3" height="4" fill="#fff" stroke="#f00" shape-rendering="crispEdges"/>
<polygon points="1410,26 1421,26 1415.5,31.5" fill="#c0c0c0"/>
<g shape-rendering="crispEdges">
<rect x="1650" y="28" width="2" height="1" fill="#000"/>
<rect x="1650" y="61" width="2" height="1" fill="#000"/>
<rect x="1650" y="94" width="2" height="1" fill="#000"/>
<rect x="1650" y="127" width="2" height="1" fill="#000"/>
<rect x="1650" y="160" width="2" height="1" fill="#000"/>
<rect x="1650" y="193" width="2" height="1" fill="#000"/>
<rect x="1650" y="226" width="2" height="1" fill="#000"/>
<rect x="1650" y="259" width="2" height="1" fill="#000"/>
<rect x="1650" y="292" width="2" height="1" fill="#000"/>
<rect x="1650" y="325" width="2" height="1" fill="#000"/>
<rect x="1650" y="358" width="2" height="1" fill="#000"/>
<rect x="1650" y="391" width="2" height="1" fill="#000"/>
<rect x="1650" y="424" width="2" height="1" fill="#000"/>
<rect x="1650" y="457" width="2" height="1" fill="#000"/>
<rect x="1650" y="523" width="2" height="1" fill="#000"/>
<rect x="1650" y="556" width="2" height="1" fill="#000"/>
<rect x="1650" y="589" width="2" height="1" fill="#000"/>
<rect x="1650" y="658" width="2" height="1" fill="#000"/>
</g>
<text x="1655" y="32.0" class="ax">36547.0</text>
<text x="1655" y="65.0" class="ax">36331.0</text>
<text x="1655" y="98.0" class="ax">36121.0</text>
<text x="1655" y="131.0" class="ax">35911.0</text>
<text x="1655" y="164.0" class="ax">35701.0</text>
<text x="1655" y="197.0" class="ax">35491.0</text>
<text x="1655" y="230.0" class="ax">35281.0</text>
<text x="1655" y="263.0" class="ax">35071.0</text>
<text x="1655" y="296.0" class="ax">34861.0</text>
<text x="1655" y="329.0" class="ax">34651.0</text>
<text x="1655" y="362.0" class="ax">34435.0</text>
<text x="1655" y="395.0" class="ax">34225.0</text>
<text x="1655" y="428.0" class="ax">34015.0</text>
<text x="1655" y="461.0" class="ax">33805.0</text>
<text x="1655" y="527.0" class="ax">33385.0</text>
<text x="1655" y="560.0" class="ax">33175.0</text>
<text x="1655" y="593.0" class="ax">32965.0</text>
<text x="1653" y="604.5" class="ax">312.26</text>
<text x="1653" y="661.5" class="ax">0.00</text>
<text x="1653" y="746.2" class="ax">-451.29</text>
<text x="1653" y="763.0" class="ax">100</text>
<text x="1653" y="792.0" class="ax">80</text>
<text x="1653" y="843.0" class="ax">50</text>
<text x="1653" y="904.0" class="ax">15</text>
<text x="1653" y="922.5" class="ax">0</text>
<g shape-rendering="crispEdges">
<rect x="1651" y="406" width="41" height="11" fill="#ff0000"/>
<rect x="1644" y="410" width="5" height="5" fill="#ff0000"/><rect x="1645" y="411" width="3" height="3" fill="#fff"/>
<rect x="1651" y="437" width="41" height="11" fill="#ff0000"/>
<rect x="1644" y="441" width="5" height="5" fill="#ff0000"/><rect x="1645" y="442" width="3" height="3" fill="#fff"/>
<rect x="1651" y="466" width="41" height="11" fill="#32cd32"/>
<rect x="1644" y="470" width="5" height="5" fill="#32cd32"/><rect x="1645" y="471" width="3" height="3" fill="#fff"/>
<rect x="1651" y="485" width="41" height="11" fill="#000000"/>
<rect x="1651" y="510" width="41" height="11" fill="#0000ff"/>
<rect x="1651" y="533" width="41" height="11" fill="#0000ff"/>
<rect x="1644" y="537" width="5" height="5" fill="#0000ff"/><rect x="1645" y="538" width="3" height="3" fill="#fff"/>
</g>
<text x="1655" y="415.0" class="axw">34094.1</text>
<text x="1655" y="446.0" class="axw">33896.5</text>
<text x="1655" y="475.0" class="axw">33711.7</text>
<text x="1655" y="494.0" class="axw">33590.0</text>
<text x="1655" y="519.0" class="axw">33431.3</text>
<text x="1655" y="542.0" class="axw">33284.8</text>
<g shape-rendering="crispEdges">
<path d="M6 658V661M14 658V662M22 658V663M30 658V664M38 658V669M46 658V675M54 658V676M62 658V677M70 658V678M78 658V678M86 658V677M94 658V676M102 658V676M110 658V677M118 658V677M126 658V678M134 658V680M142 658V687M150 658V690M158 658V695M166 658V699M174 658V704M182 658V702M190 658V702M198 658V704M206 658V708M214 658V708M222 658V707M230 658V707M238 658V701M246 658V701M254 658V707M262 658V714M270 658V715M278 658V717M286 658V716M294 658V722M302 658V728M310 658V729M318 658V727M326 658V727M334 658V728M342 658V738M350 658V743M358 658V736M366 658V735M374 658V732M382 658V729M390 658V729M398 658V718M406 658V712M414 658V707M422 658V702M430 658V692M438 658V688M446 658V687M454 658V686M462 658V693M470 658V696M478 658V693M486 658V685M494 658V686M502 658V683M510 658V681M518 658V678M526 658V681M534 658V681M542 658V677M550 658V669M558 658V663M566 656V659M574 651V659M582 650V659M590 647V659M598 640V659M606 634V659M614 630V659M622 626V659M630 624V659M638 621V659M646 619V659M654 615V659M662 612V659M670 610V659M678 608V659M686 608V659M694 605V659M702 604V659M710 604V659M718 604V659M726 606V659M734 610V659M742 617V659M750 622V659M758 626V659M766 630V659M774 639V659M782 647V659M790 648V659M798 651V659M806 653V659M814 656V659M822 657V659M830 658V659M838 658V659M846 656V659M854 656V659M862 658V659M870 658V659M878 658V659M886 658V659M894 655V659M902 649V659M910 645V659M918 642V659M926 638V659M934 632V659M942 629V659M950 626V659M958 625V659M966 623V659M974 623V659M982 626V659M990 634V659M998 643V659M1006 650V659M1014 656V659M1022 658V659M1030 658V659M1038 658V670M1046 658V677M1054 658V682M1062 658V685M1070 658V688M1078 658V694M1086 658V701M1094 658V704M1102 658V704M1110 658V704M1118 658V704M1126 658V696M1134 658V690M1142 658V685M1150 658V681M1158 658V677M1166 658V674M1174 658V671M1182 658V672M1190 658V670M1198 658V669M1206 658V669M1214 658V668M1222 658V669M1230 658V673M1238 658V679M1246 658V684M1254 658V685M1262 658V685M1270 658V687M1278 658V691M1286 658V692M1294 658V694M1302 658V700M1310 658V697M1318 658V696M1326 658V699M1334 658V702M1342 658V706M1350 658V711M1358 658V715M1366 658V719M1374 658V713M1382 658V711M1390 658V712M1398 658V712M1406 658V711" stroke="#c0c0c0" stroke-width="1" fill="none" transform="translate(0.5,0)"/>
<path fill="#ff0000" d="M726 606h3v1h-3zM732 606h3v1h-3zM738 606h1v1h-1zM716 607h1v1h-1zM720 607h3v1h-3zM739 607h2v1h-2zM744 607h3v1h-3zM710 608h1v1h-1zM714 608h2v1h-2zM750 608h1v1h-1zM708 609h2v1h-2zM751 609h2v1h-2zM702 610h3v1h-3zM756 610h2v1h-2zM758 611h1v1h-1zM696 612h3v1h-3zM762 612h2v1h-2zM764 613h1v1h-1zM691 614h2v1h-2zM768 614h2v1h-2zM690 615h1v1h-1zM770 615h1v1h-1zM686 616h1v1h-1zM684 617h2v1h-2zM774 617h2v1h-2zM678 618h3v1h-3zM776 618h1v1h-1zM674 619h1v1h-1zM672 620h2v1h-2zM780 620h2v1h-2zM668 621h1v1h-1zM782 621h1v1h-1zM666 622h2v1h-2zM786 623h1v1h-1zM660 624h3v1h-3zM787 624h1v1h-1zM788 625h1v1h-1zM655 626h2v1h-2zM654 627h1v1h-1zM792 627h1v1h-1zM984 627h3v1h-3zM990 627h3v1h-3zM793 628h1v1h-1zM978 628h3v1h-3zM996 628h3v1h-3zM649 629h2v1h-2zM794 629h1v1h-1zM1002 629h3v1h-3zM648 630h1v1h-1zM972 630h3v1h-3zM1008 630h2v1h-2zM798 631h1v1h-1zM1010 631h1v1h-1zM644 632h1v1h-1zM799 632h2v1h-2zM967 632h2v1h-2zM642 633h2v1h-2zM966 633h1v1h-1zM1014 633h3v1h-3zM804 634h1v1h-1zM638 635h1v1h-1zM805 635h2v1h-2zM961 635h2v1h-2zM1020 635h1v1h-1zM636 636h2v1h-2zM960 636h1v1h-1zM1021 636h2v1h-2zM632 638h1v1h-1zM810 638h2v1h-2zM955 638h2v1h-2zM630 639h2v1h-2zM812 639h1v1h-1zM954 639h1v1h-1zM1026 639h2v1h-2zM1028 640h1v1h-1zM626 641h1v1h-1zM816 641h2v1h-2zM949 641h2v1h-2zM624 642h2v1h-2zM818 642h1v1h-1zM948 642h1v1h-1zM1032 642h1v1h-1zM1033 643h1v1h-1zM620 644h1v1h-1zM822 644h2v1h-2zM942 644h3v1h-3zM1034 644h1v1h-1zM619 645h1v1h-1zM824 645h1v1h-1zM618 646h1v1h-1zM937 646h2v1h-2zM828 647h2v1h-2zM936 647h1v1h-1zM1038 647h2v1h-2zM614 648h1v1h-1zM830 648h1v1h-1zM930 648h3v1h-3zM1040 648h1v1h-1zM612 649h2v1h-2zM834 650h3v1h-3zM924 650h3v1h-3zM840 651h3v1h-3zM920 651h1v1h-1zM1044 651h1v1h-1zM608 652h1v1h-1zM846 652h1v1h-1zM918 652h2v1h-2zM1045 652h2v1h-2zM607 653h1v1h-1zM847 653h2v1h-2zM912 653h3v1h-3zM606 654h1v1h-1zM852 654h3v1h-3zM907 654h2v1h-2zM858 655h3v1h-3zM864 655h3v1h-3zM901 655h2v1h-2zM906 655h1v1h-1zM1050 655h1v1h-1zM602 656h1v1h-1zM870 656h3v1h-3zM876 656h3v1h-3zM894 656h3v1h-3zM900 656h1v1h-1zM1051 656h2v1h-2zM600 657h2v1h-2zM882 657h3v1h-3zM888 657h3v1h-3zM8 659h1v1h-1zM12 659h3v1h-3zM18 659h3v1h-3zM24 659h3v1h-3zM30 659h3v1h-3zM1056 659h1v1h-1zM0 660h3v1h-3zM6 660h2v1h-2zM36 660h3v1h-3zM596 660h1v1h-1zM1057 660h1v1h-1zM42 661h3v1h-3zM594 661h2v1h-2zM1058 661h1v1h-1zM48 662h1v1h-1zM49 663h2v1h-2zM590 663h1v1h-1zM1062 663h1v1h-1zM54 664h2v1h-2zM588 664h2v1h-2zM1063 664h1v1h-1zM56 665h1v1h-1zM1064 665h1v1h-1zM60 666h3v1h-3zM583 666h2v1h-2zM66 667h3v1h-3zM582 667h1v1h-1zM72 668h1v1h-1zM578 668h1v1h-1zM1068 668h2v1h-2zM73 669h2v1h-2zM576 669h2v1h-2zM1070 669h1v1h-1zM78 670h3v1h-3zM1220 670h1v1h-1zM1224 670h3v1h-3zM1230 670h3v1h-3zM1236 670h3v1h-3zM84 671h1v1h-1zM570 671h3v1h-3zM1074 671h1v1h-1zM1214 671h1v1h-1zM1218 671h2v1h-2zM1242 671h3v1h-3zM85 672h2v1h-2zM90 672h1v1h-1zM1075 672h1v1h-1zM1212 672h2v1h-2zM1248 672h1v1h-1zM91 673h2v1h-2zM96 673h1v1h-1zM565 673h2v1h-2zM1076 673h1v1h-1zM1208 673h1v1h-1zM1249 673h2v1h-2zM97 674h2v1h-2zM102 674h1v1h-1zM564 674h1v1h-1zM1206 674h2v1h-2zM1254 674h3v1h-3zM103 675h2v1h-2zM108 675h1v1h-1zM560 675h1v1h-1zM1080 675h1v1h-1zM1202 675h1v1h-1zM1260 675h2v1h-2zM109 676h2v1h-2zM114 676h3v1h-3zM120 676h3v1h-3zM126 676h3v1h-3zM132 676h3v1h-3zM138 676h1v1h-1zM558 676h2v1h-2zM1081 676h2v1h-2zM1200 676h2v1h-2zM1262 676h1v1h-1zM139 677h2v1h-2zM144 677h3v1h-3zM1195 677h2v1h-2zM1266 677h3v1h-3zM150 678h3v1h-3zM553 678h2v1h-2zM1194 678h1v1h-1zM1272 678h3v1h-3zM156 679h2v1h-2zM552 679h1v1h-1zM1086 679h1v1h-1zM1190 679h1v1h-1zM1278 679h2v1h-2zM158 680h1v1h-1zM546 680h3v1h-3zM1087 680h1v1h-1zM1188 680h2v1h-2zM1280 680h1v1h-1zM162 681h1v1h-1zM1088 681h1v1h-1zM1184 681h1v1h-1zM1284 681h2v1h-2zM163 682h2v1h-2zM540 682h3v1h-3zM1182 682h2v1h-2zM1286 682h1v1h-1zM1092 683h1v1h-1zM168 684h1v1h-1zM534 684h3v1h-3zM1093 684h2v1h-2zM1177 684h2v1h-2zM1290 684h2v1h-2zM169 685h2v1h-2zM1176 685h1v1h-1zM1292 685h1v1h-1zM174 686h2v1h-2zM516 686h3v1h-3zM522 686h3v1h-3zM528 686h3v1h-3zM1098 686h1v1h-1zM176 687h1v1h-1zM505 687h2v1h-2zM510 687h3v1h-3zM1099 687h2v1h-2zM1171 687h2v1h-2zM1296 687h3v1h-3zM180 688h3v1h-3zM498 688h3v1h-3zM504 688h1v1h-1zM1170 688h1v1h-1zM1302 688h3v1h-3zM492 689h3v1h-3zM1104 689h1v1h-1zM1308 689h2v1h-2zM186 690h3v1h-3zM486 690h3v1h-3zM1105 690h2v1h-2zM1165 690h2v1h-2zM1310 690h1v1h-1zM1314 690h1v1h-1zM482 691h1v1h-1zM1164 691h1v1h-1zM1315 691h2v1h-2zM192 692h2v1h-2zM480 692h2v1h-2zM1110 692h2v1h-2zM1159 692h2v1h-2zM1320 692h3v1h-3zM194 693h1v1h-1zM476 693h1v1h-1zM1112 693h1v1h-1zM1158 693h1v1h-1zM1326 693h3v1h-3zM198 694h1v1h-1zM474 694h2v1h-2zM1116 694h3v1h-3zM1153 694h2v1h-2zM1332 694h3v1h-3zM199 695h2v1h-2zM469 695h2v1h-2zM1122 695h1v1h-1zM1152 695h1v1h-1zM1338 695h1v1h-1zM468 696h1v1h-1zM1123 696h2v1h-2zM1146 696h3v1h-3zM1339 696h2v1h-2zM204 697h2v1h-2zM462 697h3v1h-3zM1128 697h3v1h-3zM1134 697h3v1h-3zM1140 697h3v1h-3zM1344 697h2v1h-2zM206 698h1v1h-1zM210 698h1v1h-1zM1346 698h1v1h-1zM211 699h2v1h-2zM216 699h1v1h-1zM457 699h2v1h-2zM1350 699h3v1h-3zM217 700h2v1h-2zM456 700h1v1h-1zM222 701h2v1h-2zM1356 701h3v1h-3zM224 702h1v1h-1zM452 702h1v1h-1zM1362 702h2v1h-2zM228 703h1v1h-1zM451 703h1v1h-1zM1364 703h1v1h-1zM229 704h2v1h-2zM234 704h3v1h-3zM240 704h3v1h-3zM246 704h3v1h-3zM252 704h3v1h-3zM450 704h1v1h-1zM1368 704h3v1h-3zM258 705h3v1h-3zM1374 705h3v1h-3zM264 706h3v1h-3zM446 706h1v1h-1zM1380 706h3v1h-3zM270 707h3v1h-3zM276 707h1v1h-1zM444 707h2v1h-2zM1386 707h2v1h-2zM277 708h2v1h-2zM282 708h2v1h-2zM1388 708h1v1h-1zM1392 708h1v1h-1zM284 709h1v1h-1zM288 709h3v1h-3zM440 709h1v1h-1zM1393 709h2v1h-2zM294 710h3v1h-3zM439 710h1v1h-1zM1398 710h3v1h-3zM300 711h1v1h-1zM438 711h1v1h-1zM1404 711h3v1h-3zM301 712h2v1h-2zM434 713h1v1h-1zM306 714h1v1h-1zM432 714h2v1h-2zM307 715h2v1h-2zM312 717h2v1h-2zM428 717h1v1h-1zM314 718h1v1h-1zM427 718h1v1h-1zM318 719h3v1h-3zM426 719h1v1h-1zM324 720h2v1h-2zM326 721h1v1h-1zM330 721h2v1h-2zM422 721h1v1h-1zM332 722h1v1h-1zM336 722h1v1h-1zM420 722h2v1h-2zM337 723h2v1h-2zM342 725h2v1h-2zM415 725h2v1h-2zM344 726h1v1h-1zM414 726h1v1h-1zM348 727h3v1h-3zM410 727h1v1h-1zM354 728h3v1h-3zM408 728h2v1h-2zM402 729h3v1h-3zM360 730h1v1h-1zM397 730h2v1h-2zM361 731h2v1h-2zM366 731h3v1h-3zM396 731h1v1h-1zM372 732h3v1h-3zM378 732h3v1h-3zM384 732h3v1h-3zM390 732h3v1h-3z"/>
</g>
<line x1="1292" y1="692" x2="1400" y2="712" stroke="#ff0000" stroke-width="3"/>
<polygon points="1407,713 1396,716.5 1397.5,707.5" fill="#ff0000"/>
<text x="-7.3" y="607" class="ax" style="letter-spacing:-0.1px">MACD(12,26,9) -255.21 -263.71</text>
<g shape-rendering="crispEdges">
<path d="M3 788.5H1649" stroke="#c0c0c0" stroke-width="1" stroke-dasharray="3 3" fill="none"/>
<path d="M3 839.5H1649" stroke="#c0c0c0" stroke-width="1" stroke-dasharray="3 3" fill="none"/>
<path d="M3 900.5H1649" stroke="#c0c0c0" stroke-width="1" stroke-dasharray="3 3" fill="none"/>
<path fill="#1e90ff" d="M694 805h2v1h-2zM708 805h4v1h-4zM693 806h1v1h-1zM696 806h4v1h-4zM704 806h4v1h-4zM712 806h4v1h-4zM934 806h1v1h-1zM692 807h1v1h-1zM700 807h4v1h-4zM716 807h3v1h-3zM933 807h1v1h-1zM935 807h1v1h-1zM690 808h2v1h-2zM719 808h1v1h-1zM932 808h1v1h-1zM936 808h2v1h-2zM689 809h1v1h-1zM720 809h1v1h-1zM930 809h2v1h-2zM938 809h1v1h-1zM949 809h2v1h-2zM676 810h4v1h-4zM688 810h1v1h-1zM721 810h1v1h-1zM929 810h1v1h-1zM939 810h1v1h-1zM946 810h3v1h-3zM951 810h2v1h-2zM672 811h4v1h-4zM680 811h4v1h-4zM687 811h1v1h-1zM722 811h1v1h-1zM928 811h1v1h-1zM940 811h2v1h-2zM944 811h2v1h-2zM953 811h1v1h-1zM965 811h3v1h-3zM658 812h14v1h-14zM684 812h3v1h-3zM723 812h1v1h-1zM927 812h1v1h-1zM942 812h2v1h-2zM954 812h2v1h-2zM962 812h3v1h-3zM968 812h2v1h-2zM653 813h5v1h-5zM724 813h1v1h-1zM926 813h1v1h-1zM956 813h2v1h-2zM960 813h2v1h-2zM970 813h3v1h-3zM651 814h2v1h-2zM725 814h1v1h-1zM924 814h2v1h-2zM958 814h2v1h-2zM973 814h2v1h-2zM649 815h2v1h-2zM726 815h1v1h-1zM922 815h2v1h-2zM975 815h1v2h-1zM647 816h2v1h-2zM727 816h1v1h-1zM921 816h1v1h-1zM644 817h3v1h-3zM728 817h1v1h-1zM906 817h8v1h-8zM919 817h2v1h-2zM976 817h1v1h-1zM640 818h4v1h-4zM729 818h1v1h-1zM902 818h4v1h-4zM914 818h5v1h-5zM977 818h1v1h-1zM637 819h3v1h-3zM730 819h1v2h-1zM901 819h1v1h-1zM978 819h1v2h-1zM620 820h4v1h-4zM634 820h3v1h-3zM900 820h1v2h-1zM616 821h4v1h-4zM624 821h4v1h-4zM632 821h2v1h-2zM731 821h1v1h-1zM979 821h1v1h-1zM602 822h14v1h-14zM628 822h4v1h-4zM732 822h1v1h-1zM899 822h1v1h-1zM980 822h1v1h-1zM598 823h4v1h-4zM733 823h1v1h-1zM898 823h1v1h-1zM981 823h1v2h-1zM597 824h1v1h-1zM734 824h1v1h-1zM897 824h1v1h-1zM596 825h1v1h-1zM735 825h1v2h-1zM896 825h1v2h-1zM982 825h1v2h-1zM594 826h2v1h-2zM565 827h3v1h-3zM593 827h1v1h-1zM736 827h1v1h-1zM895 827h1v1h-1zM983 827h1v3h-1zM563 828h2v1h-2zM568 828h4v1h-4zM592 828h1v1h-1zM737 828h1v2h-1zM894 828h1v1h-1zM561 829h2v1h-2zM572 829h3v1h-3zM591 829h1v1h-1zM892 829h2v1h-2zM559 830h2v1h-2zM575 830h1v1h-1zM590 830h1v1h-1zM738 830h1v1h-1zM890 830h2v1h-2zM984 830h1v4h-1zM550 831h9v1h-9zM576 831h2v1h-2zM588 831h2v1h-2zM739 831h1v2h-1zM889 831h1v1h-1zM486 832h1v1h-1zM549 832h1v1h-1zM578 832h1v1h-1zM586 832h2v1h-2zM749 832h3v1h-3zM846 832h1v1h-1zM887 832h2v1h-2zM485 833h1v2h-1zM487 833h1v2h-1zM548 833h1v1h-1zM579 833h1v1h-1zM585 833h1v1h-1zM740 833h1v1h-1zM747 833h2v1h-2zM752 833h4v1h-4zM762 833h5v1h-5zM844 833h2v1h-2zM847 833h1v1h-1zM886 833h1v1h-1zM430 834h1v1h-1zM547 834h1v1h-1zM580 834h2v1h-2zM583 834h2v1h-2zM741 834h1v2h-1zM745 834h2v1h-2zM756 834h6v1h-6zM766 834h1v1h-1zM842 834h2v1h-2zM848 834h1v1h-1zM885 834h1v1h-1zM985 834h1v3h-1zM429 835h1v2h-1zM431 835h1v1h-1zM484 835h1v2h-1zM488 835h1v2h-1zM546 835h1v1h-1zM582 835h1v1h-1zM743 835h2v1h-2zM767 835h1v3h-1zM841 835h1v1h-1zM849 835h1v1h-1zM884 835h1v1h-1zM1133 835h2v1h-2zM432 836h1v1h-1zM545 836h1v1h-1zM742 836h1v1h-1zM790 836h1v1h-1zM839 836h2v1h-2zM850 836h2v1h-2zM883 836h1v1h-1zM1131 836h2v1h-2zM1135 836h2v1h-2zM428 837h1v1h-1zM433 837h1v1h-1zM483 837h1v1h-1zM489 837h1v2h-1zM544 837h1v1h-1zM790 837h2v1h-2zM838 837h1v1h-1zM852 837h1v1h-1zM882 837h1v1h-1zM986 837h1v3h-1zM1129 837h2v1h-2zM1137 837h2v1h-2zM1165 837h5v1h-5zM427 838h1v2h-1zM434 838h2v1h-2zM482 838h1v2h-1zM543 838h1v1h-1zM768 838h1v2h-1zM789 838h1v3h-1zM792 838h1v1h-1zM837 838h1v1h-1zM853 838h1v1h-1zM881 838h1v1h-1zM1127 838h2v1h-2zM1139 838h2v1h-2zM1162 838h3v1h-3zM1170 838h5v1h-5zM1190 838h2v1h-2zM398 839h1v1h-1zM436 839h1v1h-1zM490 839h1v2h-1zM542 839h1v1h-1zM793 839h1v1h-1zM836 839h1v1h-1zM854 839h2v1h-2zM880 839h1v1h-1zM1030 839h1v2h-1zM1126 839h1v2h-1zM1141 839h5v1h-5zM1160 839h2v1h-2zM1175 839h1v2h-1zM1189 839h1v2h-1zM1192 839h2v1h-2zM398 840h2v1h-2zM426 840h1v1h-1zM437 840h1v1h-1zM481 840h1v1h-1zM541 840h1v1h-1zM769 840h1v3h-1zM794 840h2v1h-2zM805 840h2v1h-2zM834 840h2v1h-2zM856 840h4v1h-4zM879 840h1v1h-1zM987 840h1v3h-1zM1146 840h14v1h-14zM1194 840h3v1h-3zM0 841h1v1h-1zM397 841h1v3h-1zM400 841h1v1h-1zM425 841h1v2h-1zM438 841h1v1h-1zM480 841h1v2h-1zM491 841h1v2h-1zM508 841h11v1h-11zM540 841h1v1h-1zM788 841h1v2h-1zM796 841h1v1h-1zM802 841h3v1h-3zM807 841h2v1h-2zM821 841h3v1h-3zM833 841h1v1h-1zM860 841h4v1h-4zM876 841h3v1h-3zM1029 841h1v2h-1zM1031 841h1v3h-1zM1125 841h1v3h-1zM1176 841h1v2h-1zM1188 841h1v2h-1zM1197 841h2v1h-2zM1213 841h2v1h-2zM1 842h1v1h-1zM401 842h1v1h-1zM439 842h2v1h-2zM504 842h4v1h-4zM519 842h1v1h-1zM538 842h2v1h-2zM797 842h1v1h-1zM800 842h2v1h-2zM809 842h1v1h-1zM819 842h2v1h-2zM824 842h2v1h-2zM832 842h1v1h-1zM864 842h4v1h-4zM872 842h4v1h-4zM1199 842h2v1h-2zM1211 842h2v1h-2zM1215 842h2v1h-2zM2 843h1v1h-1zM402 843h2v1h-2zM424 843h1v1h-1zM441 843h1v1h-1zM479 843h1v2h-1zM492 843h1v2h-1zM501 843h3v1h-3zM520 843h1v1h-1zM537 843h1v1h-1zM770 843h1v3h-1zM787 843h1v3h-1zM798 843h2v1h-2zM810 843h2v1h-2zM817 843h2v1h-2zM826 843h3v1h-3zM831 843h1v1h-1zM868 843h4v1h-4zM988 843h1v4h-1zM1028 843h1v2h-1zM1177 843h1v1h-1zM1187 843h1v1h-1zM1201 843h2v1h-2zM1209 843h2v1h-2zM1217 843h1v1h-1zM3 844h1v1h-1zM396 844h1v3h-1zM404 844h1v1h-1zM423 844h1v2h-1zM442 844h2v1h-2zM499 844h2v1h-2zM521 844h1v1h-1zM536 844h1v1h-1zM812 844h2v1h-2zM815 844h2v1h-2zM829 844h2v1h-2zM1032 844h1v4h-1zM1124 844h1v4h-1zM1178 844h1v2h-1zM1186 844h1v2h-1zM1203 844h2v1h-2zM1207 844h2v1h-2zM1218 844h2v1h-2zM4 845h1v1h-1zM238 845h1v1h-1zM405 845h1v1h-1zM410 845h8v1h-8zM444 845h2v1h-2zM478 845h1v1h-1zM493 845h1v2h-1zM497 845h2v1h-2zM522 845h1v1h-1zM535 845h1v1h-1zM814 845h1v1h-1zM1027 845h1v3h-1zM1205 845h2v1h-2zM1220 845h2v1h-2zM5 846h1v1h-1zM21 846h5v1h-5zM238 846h2v1h-2zM406 846h4v1h-4zM418 846h5v1h-5zM446 846h9v1h-9zM477 846h1v1h-1zM495 846h2v1h-2zM523 846h1v1h-1zM533 846h2v1h-2zM771 846h1v3h-1zM786 846h1v3h-1zM1179 846h1v1h-1zM1185 846h1v1h-1zM1222 846h1v1h-1zM6 847h2v1h-2zM19 847h2v1h-2zM26 847h5v1h-5zM237 847h1v2h-1zM239 847h1v1h-1zM395 847h1v3h-1zM455 847h1v2h-1zM476 847h1v2h-1zM494 847h1v1h-1zM524 847h1v1h-1zM530 847h3v1h-3zM989 847h1v3h-1zM1180 847h1v2h-1zM1184 847h1v2h-1zM1223 847h1v2h-1zM8 848h2v1h-2zM17 848h2v1h-2zM31 848h1v2h-1zM240 848h1v2h-1zM525 848h1v1h-1zM528 848h2v1h-2zM1026 848h1v2h-1zM1033 848h1v3h-1zM1123 848h1v3h-1zM10 849h3v1h-3zM15 849h2v1h-2zM85 849h5v1h-5zM236 849h1v2h-1zM456 849h1v2h-1zM475 849h1v1h-1zM526 849h2v1h-2zM772 849h1v2h-1zM785 849h1v3h-1zM1181 849h1v2h-1zM1183 849h1v2h-1zM1224 849h1v2h-1zM1318 849h1v1h-1zM13 850h2v1h-2zM32 850h1v2h-1zM83 850h2v1h-2zM90 850h8v1h-8zM241 850h1v1h-1zM394 850h1v2h-1zM474 850h1v1h-1zM990 850h1v2h-1zM1025 850h1v3h-1zM1317 850h1v1h-1zM1319 850h1v2h-1zM81 851h2v1h-2zM98 851h13v1h-13zM235 851h1v3h-1zM242 851h1v2h-1zM358 851h1v1h-1zM457 851h1v2h-1zM473 851h1v1h-1zM773 851h1v3h-1zM1034 851h1v3h-1zM1122 851h1v3h-1zM1182 851h1v1h-1zM1225 851h1v1h-1zM1316 851h1v1h-1zM1374 851h1v1h-1zM33 852h1v2h-1zM79 852h2v1h-2zM111 852h2v1h-2zM358 852h2v1h-2zM393 852h1v3h-1zM472 852h1v2h-1zM784 852h1v2h-1zM991 852h2v1h-2zM1226 852h1v2h-1zM1315 852h1v1h-1zM1320 852h1v1h-1zM1374 852h3v1h-3zM54 853h4v1h-4zM77 853h2v1h-2zM113 853h1v1h-1zM243 853h1v1h-1zM357 853h1v4h-1zM360 853h1v1h-1zM458 853h1v2h-1zM993 853h2v1h-2zM1024 853h1v2h-1zM1314 853h1v2h-1zM1321 853h1v2h-1zM1373 853h1v3h-1zM1377 853h1v1h-1zM34 854h1v2h-1zM53 854h1v2h-1zM58 854h6v1h-6zM74 854h3v1h-3zM114 854h2v1h-2zM234 854h1v2h-1zM244 854h1v2h-1zM361 854h1v1h-1zM471 854h1v1h-1zM774 854h1v1h-1zM783 854h1v3h-1zM995 854h2v1h-2zM1035 854h1v3h-1zM1121 854h1v3h-1zM1227 854h1v1h-1zM1378 854h2v1h-2zM64 855h4v1h-4zM72 855h2v1h-2zM116 855h2v1h-2zM362 855h1v1h-1zM392 855h1v3h-1zM459 855h1v2h-1zM470 855h1v1h-1zM774 855h2v1h-2zM997 855h3v1h-3zM1023 855h1v2h-1zM1228 855h1v2h-1zM1254 855h4v1h-4zM1313 855h1v1h-1zM1322 855h1v1h-1zM1380 855h2v1h-2zM35 856h1v2h-1zM52 856h1v2h-1zM68 856h4v1h-4zM118 856h1v1h-1zM233 856h1v3h-1zM245 856h1v2h-1zM363 856h1v1h-1zM373 856h5v1h-5zM469 856h1v1h-1zM776 856h2v1h-2zM1000 856h4v1h-4zM1253 856h1v2h-1zM1258 856h5v1h-5zM1312 856h1v1h-1zM1323 856h1v2h-1zM1372 856h1v4h-1zM1382 856h1v1h-1zM119 857h2v1h-2zM356 857h1v4h-1zM364 857h1v1h-1zM370 857h3v1h-3zM378 857h5v1h-5zM460 857h1v2h-1zM468 857h1v1h-1zM778 857h3v1h-3zM782 857h1v1h-1zM1004 857h14v1h-14zM1022 857h1v1h-1zM1036 857h1v4h-1zM1120 857h1v4h-1zM1229 857h1v2h-1zM1263 857h2v1h-2zM1311 857h1v1h-1zM1383 857h1v1h-1zM36 858h1v2h-1zM51 858h1v2h-1zM121 858h2v1h-2zM246 858h1v1h-1zM365 858h1v1h-1zM368 858h2v1h-2zM383 858h2v1h-2zM391 858h1v3h-1zM466 858h2v1h-2zM781 858h2v1h-2zM1018 858h5v1h-5zM1252 858h1v1h-1zM1265 858h2v1h-2zM1310 858h1v1h-1zM1324 858h1v1h-1zM1384 858h2v1h-2zM123 859h2v1h-2zM182 859h1v1h-1zM232 859h1v2h-1zM247 859h1v2h-1zM366 859h2v1h-2zM385 859h1v1h-1zM461 859h1v2h-1zM465 859h1v1h-1zM1230 859h1v1h-1zM1251 859h1v1h-1zM1267 859h2v1h-2zM1309 859h1v2h-1zM1325 859h1v2h-1zM1386 859h1v1h-1zM37 860h1v2h-1zM50 860h1v1h-1zM125 860h2v1h-2zM182 860h3v1h-3zM386 860h2v1h-2zM464 860h1v1h-1zM1231 860h2v1h-2zM1250 860h1v2h-1zM1269 860h2v1h-2zM1371 860h1v3h-1zM1387 860h1v1h-1zM1396 860h4v1h-4zM49 861h1v2h-1zM127 861h1v1h-1zM181 861h1v3h-1zM185 861h1v1h-1zM231 861h1v2h-1zM248 861h1v2h-1zM355 861h1v4h-1zM388 861h3v1h-3zM462 861h2v1h-2zM1037 861h1v3h-1zM1102 861h2v1h-2zM1119 861h1v3h-1zM1233 861h1v1h-1zM1271 861h1v1h-1zM1308 861h1v2h-1zM1326 861h1v1h-1zM1388 861h2v1h-2zM1392 861h4v1h-4zM1400 861h4v1h-4zM38 862h1v2h-1zM128 862h1v2h-1zM186 862h2v1h-2zM286 862h1v1h-1zM390 862h1v1h-1zM462 862h1v1h-1zM1053 862h18v1h-18zM1101 862h1v1h-1zM1104 862h4v1h-4zM1234 862h2v1h-2zM1249 862h1v1h-1zM1272 862h1v1h-1zM1286 862h1v1h-1zM1327 862h2v1h-2zM1390 862h2v1h-2zM1404 862h3v1h-3zM48 863h1v2h-1zM188 863h2v1h-2zM230 863h1v1h-1zM249 863h1v2h-1zM284 863h2v1h-2zM287 863h1v2h-1zM317 863h3v1h-3zM1051 863h2v1h-2zM1071 863h1v2h-1zM1100 863h1v1h-1zM1108 863h4v1h-4zM1236 863h2v1h-2zM1248 863h1v1h-1zM1273 863h1v1h-1zM1284 863h2v1h-2zM1287 863h2v1h-2zM1307 863h1v2h-1zM1329 863h2v1h-2zM1370 863h1v3h-1zM39 864h2v1h-2zM129 864h1v1h-1zM180 864h1v3h-1zM190 864h1v1h-1zM214 864h17v1h-17zM283 864h1v1h-1zM315 864h2v1h-2zM320 864h4v1h-4zM1038 864h1v1h-1zM1049 864h2v1h-2zM1099 864h1v1h-1zM1112 864h4v1h-4zM1118 864h1v1h-1zM1238 864h2v1h-2zM1247 864h1v2h-1zM1274 864h2v1h-2zM1282 864h2v1h-2zM1289 864h1v1h-1zM1331 864h2v1h-2zM41 865h2v1h-2zM47 865h1v2h-1zM130 865h1v1h-1zM191 865h2v1h-2zM213 865h1v2h-1zM250 865h1v1h-1zM270 865h2v1h-2zM282 865h1v1h-1zM288 865h1v1h-1zM313 865h2v1h-2zM324 865h3v1h-3zM354 865h1v3h-1zM1038 865h4v1h-4zM1047 865h2v1h-2zM1072 865h1v1h-1zM1098 865h1v2h-1zM1116 865h3v1h-3zM1240 865h4v1h-4zM1276 865h1v1h-1zM1281 865h1v1h-1zM1290 865h2v1h-2zM1306 865h1v2h-1zM1333 865h2v1h-2zM43 866h2v1h-2zM131 866h1v1h-1zM193 866h2v1h-2zM251 866h1v2h-1zM269 866h1v1h-1zM272 866h2v1h-2zM280 866h2v1h-2zM289 866h1v2h-1zM311 866h2v1h-2zM327 866h2v1h-2zM1042 866h5v1h-5zM1073 866h1v1h-1zM1244 866h3v1h-3zM1277 866h1v1h-1zM1279 866h2v1h-2zM1292 866h2v1h-2zM1335 866h2v1h-2zM1369 866h1v3h-1zM45 867h2v1h-2zM132 867h1v2h-1zM179 867h1v3h-1zM195 867h2v1h-2zM212 867h1v2h-1zM268 867h1v2h-1zM274 867h3v1h-3zM279 867h1v1h-1zM310 867h1v1h-1zM329 867h1v1h-1zM1074 867h1v2h-1zM1097 867h1v1h-1zM1278 867h1v1h-1zM1294 867h1v1h-1zM1305 867h1v2h-1zM1337 867h1v1h-1zM197 868h2v1h-2zM252 868h1v2h-1zM277 868h2v1h-2zM290 868h1v1h-1zM309 868h1v1h-1zM330 868h2v1h-2zM353 868h1v4h-1zM1096 868h1v1h-1zM1295 868h1v1h-1zM1338 868h2v1h-2zM133 869h1v1h-1zM199 869h1v1h-1zM211 869h1v1h-1zM267 869h1v1h-1zM291 869h1v2h-1zM308 869h1v2h-1zM332 869h2v1h-2zM1075 869h1v1h-1zM1095 869h1v1h-1zM1296 869h2v1h-2zM1304 869h1v2h-1zM1340 869h2v1h-2zM1368 869h1v4h-1zM134 870h1v1h-1zM178 870h1v3h-1zM200 870h1v1h-1zM210 870h1v2h-1zM253 870h1v2h-1zM266 870h1v1h-1zM334 870h1v1h-1zM1076 870h1v1h-1zM1094 870h1v1h-1zM1298 870h1v1h-1zM1342 870h1v1h-1zM135 871h1v2h-1zM150 871h1v1h-1zM201 871h1v1h-1zM265 871h1v1h-1zM292 871h1v1h-1zM307 871h1v1h-1zM335 871h1v2h-1zM1077 871h1v2h-1zM1093 871h1v1h-1zM1299 871h1v1h-1zM1303 871h1v2h-1zM1343 871h2v1h-2zM149 872h1v2h-1zM151 872h2v1h-2zM202 872h1v2h-1zM209 872h1v1h-1zM254 872h2v1h-2zM264 872h1v2h-1zM293 872h1v2h-1zM306 872h1v1h-1zM352 872h1v4h-1zM1092 872h1v1h-1zM1300 872h2v1h-2zM1345 872h1v1h-1zM136 873h1v2h-1zM153 873h1v1h-1zM177 873h1v3h-1zM208 873h1v2h-1zM256 873h2v1h-2zM305 873h1v1h-1zM336 873h1v1h-1zM1078 873h1v1h-1zM1090 873h2v1h-2zM1302 873h1v1h-1zM1346 873h2v1h-2zM1367 873h1v3h-1zM148 874h1v1h-1zM154 874h2v1h-2zM203 874h1v1h-1zM258 874h3v1h-3zM263 874h1v1h-1zM294 874h2v1h-2zM304 874h1v2h-1zM337 874h1v2h-1zM1079 874h2v1h-2zM1089 874h1v1h-1zM1348 874h2v1h-2zM137 875h1v1h-1zM147 875h1v2h-1zM156 875h2v1h-2zM204 875h1v1h-1zM207 875h1v2h-1zM261 875h2v1h-2zM296 875h2v1h-2zM1081 875h2v1h-2zM1088 875h1v1h-1zM1350 875h2v1h-2zM138 876h1v2h-1zM158 876h1v1h-1zM176 876h1v3h-1zM205 876h1v1h-1zM298 876h3v1h-3zM303 876h1v1h-1zM338 876h1v1h-1zM351 876h1v4h-1zM1083 876h2v1h-2zM1087 876h1v1h-1zM1352 876h4v1h-4zM1366 876h1v1h-1zM146 877h1v1h-1zM159 877h2v1h-2zM206 877h1v1h-1zM301 877h2v1h-2zM339 877h1v2h-1zM1085 877h2v1h-2zM1356 877h11v1h-11zM139 878h1v1h-1zM145 878h1v2h-1zM161 878h2v1h-2zM140 879h1v2h-1zM163 879h2v1h-2zM175 879h1v3h-1zM340 879h1v1h-1zM144 880h1v1h-1zM165 880h3v1h-3zM341 880h1v2h-1zM350 880h1v1h-1zM141 881h1v2h-1zM143 881h1v2h-1zM168 881h2v1h-2zM346 881h5v1h-5zM170 882h3v1h-3zM174 882h1v1h-1zM342 882h4v1h-4zM142 883h1v1h-1zM173 883h2v1h-2z"/>
</g>
<line x1="1364" y1="858.5" x2="1398" y2="858.5" stroke="#ff0000" stroke-width="3"/>
<polygon points="1407,858.5 1395.5,853.5 1395.5,863.5" fill="#ff0000"/>
<text x="-6.7" y="765" class="ax" style="letter-spacing:-0.19px">RSI(14) 37.0941</text>
<text x="-9.8" y="939" class="ax" style="letter-spacing:-0.34px">13 Jan 2022</text>
<text x="54" y="939" class="ax" style="letter-spacing:-0.34px">14 Jan 20:00</text>
<text x="118" y="939" class="ax" style="letter-spacing:-0.34px">18 Jan 00:00</text>
<text x="182" y="939" class="ax" style="letter-spacing:-0.34px">19 Jan 08:00</text>
<text x="246" y="939" class="ax" style="letter-spacing:-0.34px">20 Jan 16:00</text>
<text x="310" y="939" class="ax" style="letter-spacing:-0.34px">23 Jan 23:00</text>
<text x="374" y="939" class="ax" style="letter-spacing:-0.34px">25 Jan 04:00</text>
<text x="438" y="939" class="ax" style="letter-spacing:-0.34px">26 Jan 12:00</text>
<text x="502" y="939" class="ax" style="letter-spacing:-0.34px">27 Jan 20:00</text>
<text x="566" y="939" class="ax" style="letter-spacing:-0.34px">31 Jan 00:00</text>
<text x="630" y="939" class="ax" style="letter-spacing:-0.34px">1 Feb 08:00</text>
<text x="694" y="939" class="ax" style="letter-spacing:-0.34px">2 Feb 16:00</text>
<text x="758" y="939" class="ax" style="letter-spacing:-0.34px">4 Feb 00:00</text>
<text x="822" y="939" class="ax" style="letter-spacing:-0.34px">7 Feb 04:00</text>
<text x="886" y="939" class="ax" style="letter-spacing:-0.34px">8 Feb 12:00</text>
<text x="950" y="939" class="ax" style="letter-spacing:-0.34px">9 Feb 20:00</text>
<text x="1014" y="939" class="ax" style="letter-spacing:-0.34px">11 Feb 04:00</text>
<text x="1078" y="939" class="ax" style="letter-spacing:-0.34px">14 Feb 08:00</text>
<text x="1142" y="939" class="ax" style="letter-spacing:-0.34px">15 Feb 16:00</text>
<text x="1206" y="939" class="ax" style="letter-spacing:-0.34px">17 Feb 00:00</text>
<text x="1270" y="939" class="ax" style="letter-spacing:-0.34px">18 Feb 08:00</text>
<text x="1334" y="939" class="ax" style="letter-spacing:-0.34px">21 Feb 12:00</text>
<text x="1398" y="939" class="ax" style="letter-spacing:-0.34px">22 Feb 20:00</text>
<text x="5.5" y="37" class="ax" style="letter-spacing:-0.19px">DJ30-,H4&#160; 33597.0 33603.0 33590.0 33590.0</text>
<defs><linearGradient id="gS" x1="0" y1="0" x2="0" y2="1"><stop offset="0" stop-color="#ff5a5a"/><stop offset="1" stop-color="#e03030"/></linearGradient><linearGradient id="gP" x1="0" y1="0" x2="0" y2="1"><stop offset="0" stop-color="#de2c2c"/><stop offset="1" stop-color="#b40000"/></linearGradient><linearGradient id="gB" x1="0" y1="0" x2="0" y2="1"><stop offset="0" stop-color="#f4f4f4"/><stop offset="0.5" stop-color="#dcdcdc"/><stop offset="1" stop-color="#c8c8c8"/></linearGradient></defs>
<g shape-rendering="crispEdges">
<rect x="0" y="43" width="214" height="61" fill="#fff"/>
<rect x="0" y="45" width="45" height="25" fill="url(#gS)"/>
<rect x="160" y="45" width="52" height="25" fill="url(#gS)"/>
<rect x="0" y="69" width="102" height="33" fill="url(#gP)"/>
<rect x="104" y="69" width="108" height="33" fill="url(#gP)"/>
<rect x="0" y="68" width="41" height="1" fill="#b00000"/><rect x="0" y="69" width="41" height="1" fill="#ff7a7a"/>
<rect x="164" y="68" width="44" height="1" fill="#b00000"/><rect x="164" y="69" width="44" height="1" fill="#ff7a7a"/>
<rect x="0" y="45" width="45" height="1" fill="#c00000"/><rect x="44" y="45" width="1" height="24" fill="#c00000"/>
<rect x="160" y="45" width="52" height="1" fill="#c00000"/><rect x="160" y="45" width="1" height="24" fill="#c00000"/><rect x="211" y="45" width="1" height="57" fill="#c00000"/>
<rect x="0" y="101" width="102" height="1" fill="#a80000"/><rect x="104" y="101" width="108" height="1" fill="#a80000"/>
<rect x="47.5" y="45.5" width="110" height="20" fill="#fff" stroke="#a6a6ae" stroke-width="1"/>
<rect x="49" y="47" width="18" height="18" fill="url(#gB)"/>
<rect x="137" y="47" width="19" height="18" fill="url(#gB)"/>
<rect x="67.5" y="46" width="1" height="19" fill="#b8b8c0"/><rect x="136" y="46" width="1" height="19" fill="#b8b8c0"/>
</g>
<polygon points="55,54 61,54 58,57.5" fill="#3b4fc4"/>
<polygon points="143.5,57 149.5,57 146.5,53.5" fill="#3b4fc4"/>
<text x="133" y="60.5" text-anchor="end" font-size="12.3px" fill="#000">1.00</text>
<text x="5" y="61" font-size="12px" fill="#fff" textLength="26" lengthAdjust="spacingAndGlyphs">SELL</text>
<text x="172.5" y="61" font-size="12px" fill="#fff">BUY</text>
<text x="9.5" y="97" font-size="12px" font-weight="bold" fill="#fff" textLength="34" lengthAdjust="spacingAndGlyphs">33588</text>
<text x="46.5" y="97" font-size="34px" fill="#fff" textLength="25" lengthAdjust="spacingAndGlyphs">.5</text>
<text x="119.5" y="97" font-size="12px" font-weight="bold" fill="#fff" textLength="34" lengthAdjust="spacingAndGlyphs">33597</text>
<text x="157" y="97" font-size="34px" fill="#fff" textLength="25" lengthAdjust="spacingAndGlyphs">.5</text>
<polygon points="3.5,3.9 5.1,5.5 3.5,7.1 1.9,5.5" fill="#fff" stroke="#000" stroke-width="1.1"/>
<polygon points="0,14 2.5,16 0,19" fill="#d9a520"/>
<rect x="10" y="0" width="1" height="19" fill="#9a9a9a" shape-rendering="crispEdges"/>
<defs><radialGradient id="gPlus" cx="0.5" cy="0.5" r="0.6"><stop offset="0" stop-color="#58f458"/><stop offset="1" stop-color="#14b014"/></radialGradient></defs>
<path d="M22 1.7h6.800l3 3v9.500a0.800 0.800 0 0 1 -0.800 0.800h-9a0.800 0.800 0 0 1 -0.800 -0.800v-11.700a0.800 0.800 0 0 1 0.800 -0.800z" fill="#fff" stroke="#737373" stroke-width="1.200"/>
<path d="M28.600 1.900v3h3" fill="none" stroke="#8a8a8a" stroke-width="0.900"/>
<rect x="22.300" y="3" width="2.700" height="1.800" fill="#9a9a9a"/>
<path d="M22.300 7.300h4.700M22.300 9.400h4.700M22.300 11.500h2.500" stroke="#8e8e8e" stroke-width="0.900"/>
<path d="M28.500 7.600h3.200v3.800h3.800v3.200h-3.800v3.800h-3.200v-3.800h-3.800v-3.200h3.800z" fill="url(#gPlus)" stroke="#0b8f0b" stroke-width="1"/>
<text x="39.5" y="12" class="tb">New Order</text>
<polygon points="116,10 124,2.5 132,9 126,16.5" fill="#e8b830" stroke="#a87808" stroke-width="1"/>
<polygon points="116,10 126,16.5 126.5,18 116.5,12" fill="#fff3c0" stroke="#a87808" stroke-width="0.7"/>
<rect x="147.500" y="1.5" width="10" height="9" fill="#3f8fe0" stroke="#1c5cae" stroke-width="1"/>
<rect x="149.5" y="3.5" width="6" height="3" fill="#cfe6ff"/>
<path d="M146 16.500a3 3 0 0 1 2-5a4 4 0 0 1 7-1a3.2 3.200 0 0 1 4 6z" fill="#e8eef8" stroke="#7d9cc8" stroke-width="1"/>
<path d="M175.200 15.200a7.500 7.500 0 1 1 9.600 0" fill="none" stroke="#a9c0e6" stroke-width="1.300"/>
<path d="M177.200 12.800a4.500 4.500 0 1 1 5.600 0" fill="none" stroke="#6f9ad8" stroke-width="1.300"/>
<path d="M180 9V16.800A7.600 7.600 0 0 0 187.300 11.200" fill="none" stroke="#35b045" stroke-width="1.700"/>
<circle cx="180" cy="8.700" r="1.700" fill="#2d62c4"/>
<path d="M199.500 6.500h15l-5 5v5l-5 1.500v-6.500z" fill="#f2c430" stroke="#b88a10" stroke-width="1"/>
<ellipse cx="206.800" cy="5.600" rx="7.400" ry="2.300" fill="#5b9be0" stroke="#3a78c8" stroke-width="0.800"/><ellipse cx="206.800" cy="3.600" rx="4.200" ry="2.700" fill="#79b2ec" stroke="#3a78c8" stroke-width="0.800"/>
<circle cx="211.5" cy="12.500" r="4.200" fill="#e02020"/>
<rect x="209.700" y="10.800" width="3.600" height="3.400" fill="#fff"/>
<text x="220.300" y="12" class="tb" style="letter-spacing:0.1px">AutoTrading</text>
<rect x="299" y="0" width="1" height="19" fill="#9a9a9a" shape-rendering="crispEdges"/>
<path d="M303 2h3v1h-3zM303 4h3v1h-3zM303 6h3v1h-3zM303 8h3v1h-3zM303 10h3v1h-3zM303 12h3v1h-3zM303 14h3v1h-3zM303 16h3v1h-3zM303 18h3v1h-3z" fill="#b8b8b8" shape-rendering="crispEdges"/>
<path d="M317.5 3V17M315 15.5H328" stroke="#444" stroke-width="1" shape-rendering="crispEdges"/>
<path d="M323.5 4V13M321 11.500h2.500M323.5 6.500H326" stroke="#1a9a1a" stroke-width="1.600"/>
<rect x="337" y="0" width="1" height="19" fill="#9a9a9a" shape-rendering="crispEdges"/>
<rect x="338.5" y="0.5" width="24.0" height="19" fill="#f9f9f9" stroke="#e4e4e4" stroke-width="1" shape-rendering="crispEdges"/>
<path d="M345.5 3V17M343 15.5H356" stroke="#444" stroke-width="1" shape-rendering="crispEdges"/>
<path d="M351.5 2V14" stroke="#107010" stroke-width="1"/><rect x="349.5" y="4.500" width="4" height="7" fill="#20c020" stroke="#107010" stroke-width="1"/>
<path d="M373.5 3V17M371 15.5H384" stroke="#444" stroke-width="1" shape-rendering="crispEdges"/>
<path d="M374 13 L378 7 L381 8.500 L385 14" fill="none" stroke="#1a9a1a" stroke-width="1.300"/>
<rect x="394" y="0" width="1" height="19" fill="#9a9a9a" shape-rendering="crispEdges"/>
<path d="M414 12.5L418 17.5" stroke="#d09a20" stroke-width="3" stroke-linecap="round"/>
<circle cx="410" cy="7.5" r="5.500" fill="#eaf4ff" stroke="#3a7bd0" stroke-width="1.600"/>
<path d="M407 7.5H413" stroke="#2a62b8" stroke-width="1.800"/>
<path d="M410 4.5V10.5" stroke="#2a62b8" stroke-width="1.800"/>
<path d="M442 12.5L446 17.5" stroke="#d09a20" stroke-width="3" stroke-linecap="round"/>
<circle cx="438" cy="7.5" r="5.500" fill="#eaf4ff" stroke="#3a7bd0" stroke-width="1.600"/>
<path d="M435 7.5H441" stroke="#2a62b8" stroke-width="1.800"/>
<rect x="459.500" y="1.500" width="7" height="7" fill="#49b04a"/><rect x="468" y="1.500" width="7.500" height="7" fill="#2f6fd0"/><rect x="459.500" y="10" width="7" height="7" fill="#2f6fd0"/><rect x="468" y="10" width="7.500" height="7" fill="#49b04a"/>
<path d="M461 5h4M469.500 5h4M461 13.500h4M469.500 13.500h4" stroke="#fff" stroke-width="1.500"/>
<rect x="484" y="0" width="1" height="19" fill="#9a9a9a" shape-rendering="crispEdges"/>
<rect x="490.5" y="0.5" width="24.0" height="19" fill="#f9f9f9" stroke="#e4e4e4" stroke-width="1" shape-rendering="crispEdges"/>
<path d="M497.5 3V17M495 15.5H508" stroke="#444" stroke-width="1" shape-rendering="crispEdges"/>
<polygon points="502,5 502,12 507.500,8.500" fill="none" stroke="#1a9a1a" stroke-width="1.200"/>
<rect x="517" y="0" width="1" height="19" fill="#9a9a9a" shape-rendering="crispEdges"/>
<rect x="518.5" y="0.5" width="24.0" height="19" fill="#f9f9f9" stroke="#e4e4e4" stroke-width="1" shape-rendering="crispEdges"/>
<path d="M525.5 3V17M523 15.5H536" stroke="#444" stroke-width="1" shape-rendering="crispEdges"/>
<path d="M530.500 3V14" stroke="#444" stroke-width="1"/><path d="M537 8.500h-5M534 6l-2.500 2.500l2.500 2.500" stroke="#d03010" stroke-width="1.200" fill="none"/>
<rect x="546" y="0" width="1" height="19" fill="#9a9a9a" shape-rendering="crispEdges"/>
<path d="M557.500 2.500h7l3 3v9h-10z" fill="#fff" stroke="#8a8a8a" stroke-width="1"/><text x="559" y="11" font-size="8px" font-style="italic" fill="#555">f</text>
<path d="M564.500 8h3.500v3.500h3.500v3.500h-3.500v3.500h-3.500v-3.500h-3.500v-3.500h3.500z" fill="#1ec41e" stroke="#0a8a0a" stroke-width="0.800"/>
<polygon points="578,8 583,8 580.5,10.8" fill="#000"/>
<circle cx="602" cy="9.500" r="7.500" fill="#2f7ad8" stroke="#1a4fa0" stroke-width="1"/><circle cx="602" cy="9.500" r="5" fill="#f4f8ff"/><path d="M602 6V10H605" stroke="#444" stroke-width="1.200" fill="none"/>
<polygon points="617,8 622,8 619.5,10.8" fill="#000"/>
<rect x="633" y="2" width="16" height="15" fill="#fff" stroke="#2f6fd0" stroke-width="1.400"/><rect x="633" y="2" width="16" height="3" fill="#2f6fd0"/>
<path d="M635 9l3-1.500l3 1l3-1.500l3 0.500" stroke="#d03010" stroke-width="1.200" fill="none"/><path d="M635 14l3-1.500l3 1l3-1.500l3 0.500" stroke="#1a9a1a" stroke-width="1.200" fill="none"/>
<polygon points="656,8 661,8 658.5,10.8" fill="#000"/>
<rect x="667" y="0" width="1" height="19" fill="#9a9a9a" shape-rendering="crispEdges"/>
<path d="M670 2h3v1h-3zM670 4h3v1h-3zM670 6h3v1h-3zM670 8h3v1h-3zM670 10h3v1h-3zM670 12h3v1h-3zM670 14h3v1h-3zM670 16h3v1h-3zM670 18h3v1h-3z" fill="#b8b8b8" shape-rendering="crispEdges"/>
<rect x="677.5" y="0.5" width="25.0" height="19" fill="#f9f9f9" stroke="#e4e4e4" stroke-width="1" shape-rendering="crispEdges"/>
<polygon points="685.500,2.500 685.500,14.500 688.500,11.800 691,16.500 692.800,15.600 690.400,11 694,11" fill="#333"/>
<path d="M717.500 3V16M710.500 9.500H724.500" stroke="#444" stroke-width="1" shape-rendering="crispEdges"/><rect x="716" y="8" width="3" height="3" fill="#f0f0f0"/>
<rect x="734" y="0" width="1" height="19" fill="#9a9a9a" shape-rendering="crispEdges"/>
<path d="M751.500 3V16" stroke="#444" stroke-width="1" shape-rendering="crispEdges"/>
<path d="M774 9.500H786" stroke="#444" stroke-width="1" shape-rendering="crispEdges"/>
<path d="M802 15.500L814 4" stroke="#444" stroke-width="1.200"/>
<path d="M827.500 12.500L840 4M829.500 16L842 7.500M831 8.500l2.500 6M834.500 6.500l2.500 6M838 4.500l2.500 6" stroke="#555" stroke-width="1"/>
<text x="839" y="18" font-size="7px" font-weight="bold" fill="#333">E</text>
<path d="M857 3.500h13M857 7.500h13M857 11.500h13M857 15.500h9" stroke="#555" stroke-width="1" stroke-dasharray="1 1" shape-rendering="crispEdges"/>
<text x="867" y="18.500" font-size="7px" font-weight="bold" fill="#333">F</text>
<text x="887" y="14.500" font-size="13px" fill="#444">A</text>
<rect x="914.500" y="3.500" width="11" height="12" fill="none" stroke="#555" stroke-width="1" stroke-dasharray="1 1" shape-rendering="crispEdges"/><text x="916.500" y="14" font-size="11px" font-weight="bold" fill="#444">T</text>
<polygon points="941,6.500 945,3 949,6.500 945,8" fill="#333"/><polygon points="947,12.500 951,10.500 955,13 951,16.500" fill="#333"/><path d="M945 9l4 3" stroke="#333" stroke-width="1.200"/>
<polygon points="962,8 967,8 964.5,10.8" fill="#000"/>
<rect x="973" y="0" width="1" height="19" fill="#9a9a9a" shape-rendering="crispEdges"/>
<path d="M976 2h3v1h-3zM976 4h3v1h-3zM976 6h3v1h-3zM976 8h3v1h-3zM976 10h3v1h-3zM976 12h3v1h-3zM976 14h3v1h-3zM976 16h3v1h-3zM976 18h3v1h-3z" fill="#b8b8b8" shape-rendering="crispEdges"/>
<rect x="1124.5" y="0.5" width="24.0" height="19" fill="#f9f9f9" stroke="#e4e4e4" stroke-width="1" shape-rendering="crispEdges"/>
<text x="988.0" y="13.500" class="tf">M1</text>
<text x="1015.5" y="13.500" class="tf">M5</text>
<text x="1042.5" y="13.500" class="tf">M15</text>
<text x="1070.0" y="13.500" class="tf">M30</text>
<text x="1100.5" y="13.500" class="tf">H1</text>
<text x="1128.5" y="13.500" class="tf">H4</text>
<text x="1157.5" y="13.500" class="tf">D1</text>
<text x="1185.0" y="13.500" class="tf">W1</text>
<text x="1211.0" y="13.500" class="tf">MN</text>
<rect x="1123" y="0" width="1" height="19" fill="#9a9a9a" shape-rendering="crispEdges"/>
<rect x="1234" y="0" width="1" height="19" fill="#9a9a9a" shape-rendering="crispEdges"/>
<circle cx="1651.500" cy="6.500" r="3.800" fill="#fff" stroke="#2f6fd0" stroke-width="1.800"/><path d="M1648.500 9.500L1643.500 14.500" stroke="#2f6fd0" stroke-width="2.200" stroke-linecap="round"/>
<ellipse cx="1674" cy="11.500" rx="6" ry="4.500" fill="#f8f8f8" stroke="#b8b8b8" stroke-width="1"/><polygon points="1671,15 1670,18.500 1674,15.500" fill="#f8f8f8" stroke="#b8b8b8" stroke-width="0.800"/>
<circle cx="1682" cy="6.500" r="6.500" fill="#e0281e"/><text x="1682" y="11" font-size="12px" font-weight="bold" fill="#fff" text-anchor="middle">1</text>
</svg></body></html>
